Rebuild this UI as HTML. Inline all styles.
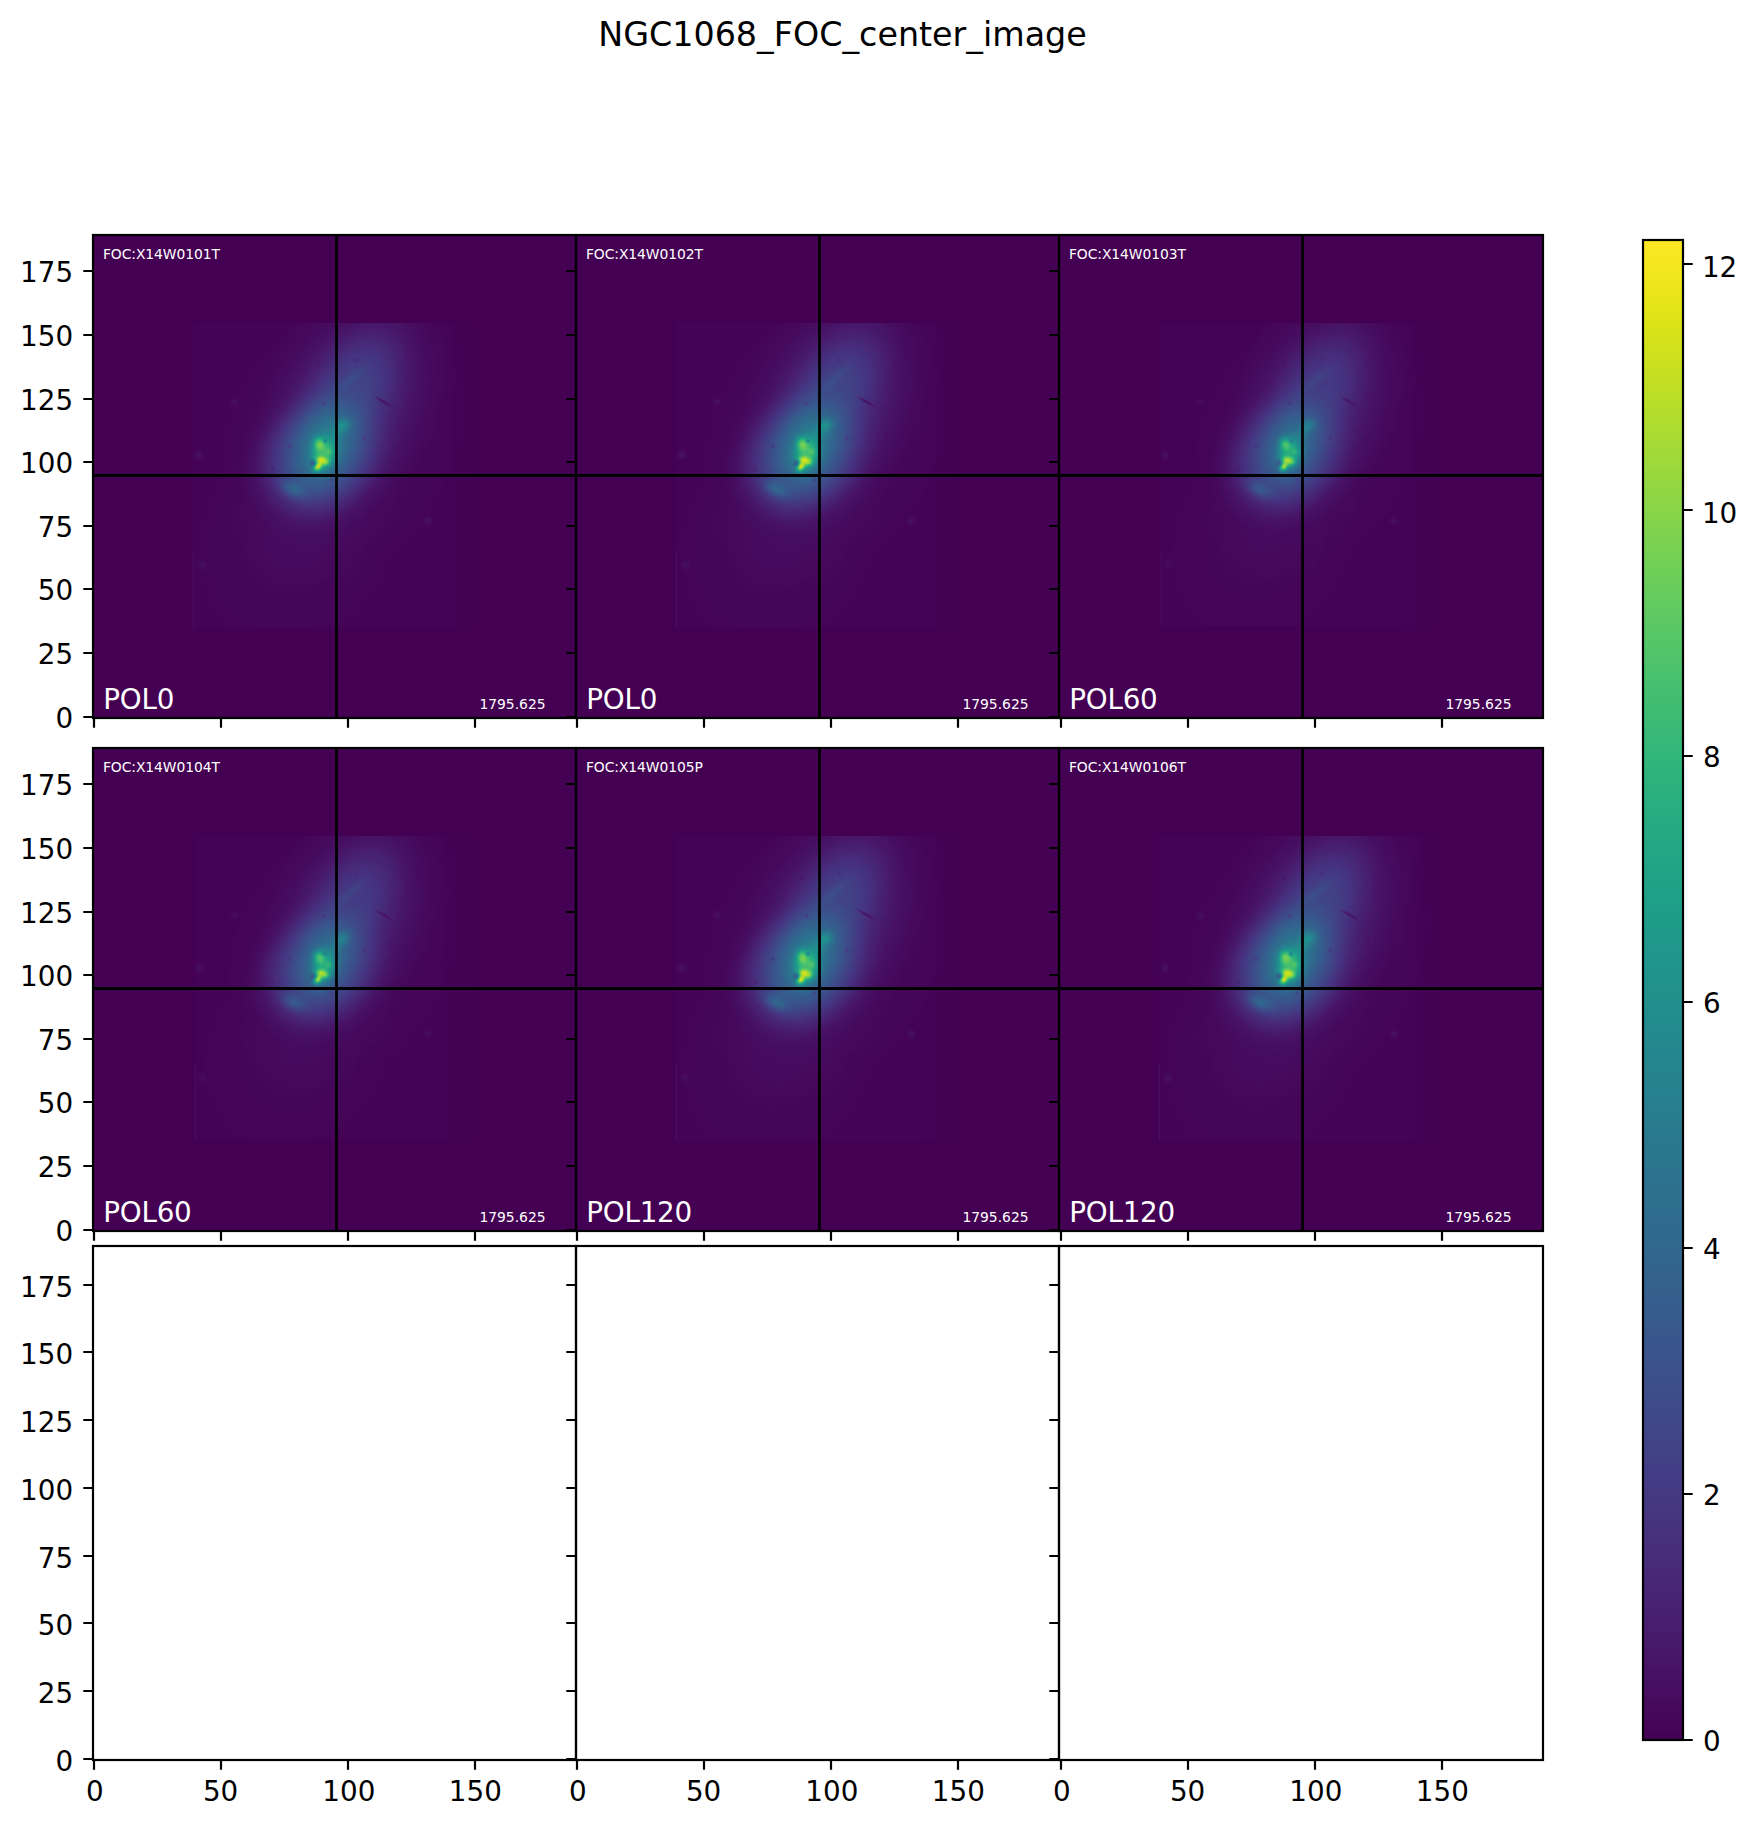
<!DOCTYPE html>
<html lang="en"><head><meta charset="utf-8"><title>NGC1068_FOC_center_image</title>
<style>html,body{margin:0;padding:0;background:#fff}svg{display:block}text{font-family:"DejaVu Sans","Liberation Sans",sans-serif}</style>
</head><body>
<svg width="1757" height="1827" viewBox="0 0 1757 1827">
<defs>
<filter id="vir" x="0" y="0" width="100%" height="100%" color-interpolation-filters="sRGB" filterUnits="objectBoundingBox">
<feComponentTransfer><feFuncR type="table" tableValues="0.2670 0.2685 0.2699 0.2713 0.2726 0.2738 0.2750 0.2760 0.2770 0.2779 0.2788 0.2796 0.2803 0.2809 0.2814 0.2819 0.2823 0.2827 0.2829 0.2831 0.2832 0.2832 0.2832 0.2831 0.2829 0.2826 0.2823 0.2819 0.2814 0.2809 0.2803 0.2796 0.2788 0.2780 0.2771 0.2762 0.2752 0.2741 0.2730 0.2718 0.2706 0.2693 0.2680 0.2666 0.2651 0.2637 0.2621 0.2606 0.2590 0.2573 0.2556 0.2539 0.2522 0.2504 0.2486 0.2468 0.2450 0.2431 0.2412 0.2393 0.2374 0.2355 0.2336 0.2317 0.2297 0.2278 0.2259 0.2239 0.2220 0.2201 0.2181 0.2162 0.2143 0.2124 0.2105 0.2086 0.2068 0.2049 0.2031 0.2012 0.1994 0.1976 0.1959 0.1941 0.1924 0.1906 0.1889 0.1872 0.1856 0.1839 0.1823 0.1806 0.1790 0.1774 0.1758 0.1743 0.1727 0.1712 0.1696 0.1681 0.1666 0.1651 0.1636 0.1621 0.1607 0.1592 0.1577 0.1563 0.1548 0.1534 0.1519 0.1505 0.1490 0.1476 0.1462 0.1448 0.1433 0.1419 0.1405 0.1391 0.1378 0.1364 0.1351 0.1337 0.1324 0.1312 0.1299 0.1287 0.1276 0.1265 0.1254 0.1244 0.1235 0.1226 0.1218 0.1211 0.1206 0.1201 0.1197 0.1195 0.1194 0.1195 0.1197 0.1201 0.1206 0.1214 0.1223 0.1234 0.1248 0.1263 0.1281 0.1301 0.1323 0.1347 0.1373 0.1402 0.1433 0.1466 0.1501 0.1539 0.1579 0.1620 0.1664 0.1709 0.1757 0.1807 0.1858 0.1911 0.1966 0.2022 0.2080 0.2140 0.2201 0.2264 0.2328 0.2394 0.2461 0.2529 0.2599 0.2669 0.2741 0.2815 0.2889 0.2965 0.3041 0.3119 0.3198 0.3278 0.3359 0.3441 0.3524 0.3607 0.3692 0.3778 0.3864 0.3952 0.4040 0.4129 0.4219 0.4310 0.4401 0.4494 0.4587 0.4681 0.4775 0.4870 0.4966 0.5063 0.5160 0.5258 0.5356 0.5455 0.5555 0.5655 0.5756 0.5857 0.5958 0.6060 0.6163 0.6266 0.6369 0.6473 0.6576 0.6681 0.6785 0.6889 0.6994 0.7099 0.7204 0.7309 0.7414 0.7519 0.7624 0.7729 0.7833 0.7938 0.8042 0.8146 0.8249 0.8353 0.8456 0.8558 0.8660 0.8762 0.8863 0.8963 0.9063 0.9162 0.9261 0.9359 0.9456 0.9553 0.9649 0.9744 0.9839 0.9932"/><feFuncG type="table" tableValues="0.0049 0.0096 0.0146 0.0199 0.0256 0.0315 0.0378 0.0442 0.0503 0.0563 0.0621 0.0678 0.0734 0.0789 0.0843 0.0897 0.0950 0.1002 0.1054 0.1106 0.1157 0.1208 0.1258 0.1309 0.1359 0.1409 0.1459 0.1509 0.1558 0.1608 0.1657 0.1706 0.1755 0.1804 0.1852 0.1901 0.1949 0.1997 0.2045 0.2093 0.2141 0.2188 0.2235 0.2283 0.2330 0.2376 0.2423 0.2469 0.2515 0.2561 0.2607 0.2653 0.2698 0.2743 0.2788 0.2832 0.2877 0.2921 0.2965 0.3009 0.3052 0.3095 0.3138 0.3181 0.3224 0.3266 0.3308 0.3350 0.3392 0.3433 0.3474 0.3515 0.3556 0.3597 0.3637 0.3678 0.3718 0.3757 0.3797 0.3837 0.3876 0.3915 0.3954 0.3993 0.4032 0.4071 0.4109 0.4147 0.4186 0.4224 0.4262 0.4300 0.4338 0.4375 0.4413 0.4450 0.4488 0.4525 0.4563 0.4600 0.4637 0.4674 0.4711 0.4748 0.4785 0.4822 0.4859 0.4896 0.4933 0.4970 0.5007 0.5044 0.5081 0.5117 0.5154 0.5191 0.5228 0.5265 0.5301 0.5338 0.5375 0.5412 0.5449 0.5485 0.5522 0.5559 0.5596 0.5633 0.5669 0.5706 0.5743 0.5780 0.5817 0.5854 0.5891 0.5927 0.5964 0.6001 0.6038 0.6075 0.6111 0.6148 0.6185 0.6222 0.6258 0.6295 0.6332 0.6368 0.6405 0.6441 0.6477 0.6514 0.6550 0.6586 0.6623 0.6659 0.6695 0.6731 0.6766 0.6802 0.6838 0.6873 0.6909 0.6944 0.6979 0.7014 0.7049 0.7084 0.7118 0.7153 0.7187 0.7221 0.7255 0.7289 0.7322 0.7356 0.7389 0.7422 0.7455 0.7488 0.7520 0.7552 0.7584 0.7616 0.7647 0.7678 0.7709 0.7740 0.7770 0.7800 0.7830 0.7860 0.7889 0.7918 0.7946 0.7975 0.8003 0.8030 0.8058 0.8085 0.8111 0.8138 0.8164 0.8189 0.8214 0.8239 0.8264 0.8288 0.8312 0.8335 0.8358 0.8380 0.8403 0.8424 0.8446 0.8467 0.8487 0.8507 0.8527 0.8546 0.8565 0.8584 0.8602 0.8620 0.8637 0.8654 0.8671 0.8688 0.8703 0.8719 0.8734 0.8750 0.8764 0.8779 0.8793 0.8807 0.8820 0.8834 0.8847 0.8860 0.8873 0.8886 0.8899 0.8911 0.8924 0.8936 0.8949 0.8961 0.8973 0.8986 0.8998 0.9011 0.9023 0.9036 0.9049 0.9062"/><feFuncB type="table" tableValues="0.3294 0.3354 0.3414 0.3473 0.3531 0.3589 0.3645 0.3702 0.3757 0.3812 0.3866 0.3919 0.3972 0.4023 0.4074 0.4124 0.4173 0.4222 0.4269 0.4316 0.4361 0.4406 0.4450 0.4492 0.4534 0.4575 0.4615 0.4654 0.4692 0.4729 0.4765 0.4800 0.4834 0.4867 0.4899 0.4930 0.4960 0.4989 0.5017 0.5044 0.5071 0.5096 0.5120 0.5143 0.5166 0.5188 0.5208 0.5228 0.5247 0.5266 0.5283 0.5300 0.5316 0.5331 0.5346 0.5359 0.5373 0.5385 0.5397 0.5408 0.5419 0.5429 0.5439 0.5448 0.5457 0.5465 0.5473 0.5481 0.5488 0.5494 0.5500 0.5506 0.5512 0.5517 0.5522 0.5527 0.5531 0.5535 0.5539 0.5543 0.5546 0.5550 0.5553 0.5556 0.5558 0.5561 0.5563 0.5565 0.5568 0.5569 0.5571 0.5573 0.5574 0.5576 0.5577 0.5578 0.5579 0.5580 0.5580 0.5581 0.5581 0.5581 0.5581 0.5581 0.5581 0.5581 0.5580 0.5579 0.5578 0.5577 0.5576 0.5574 0.5573 0.5570 0.5568 0.5566 0.5563 0.5560 0.5557 0.5553 0.5549 0.5545 0.5540 0.5535 0.5530 0.5525 0.5519 0.5512 0.5506 0.5498 0.5491 0.5483 0.5474 0.5466 0.5456 0.5446 0.5436 0.5425 0.5414 0.5402 0.5390 0.5377 0.5363 0.5349 0.5335 0.5320 0.5304 0.5288 0.5271 0.5253 0.5235 0.5216 0.5197 0.5176 0.5156 0.5134 0.5112 0.5089 0.5066 0.5042 0.5017 0.4991 0.4965 0.4938 0.4910 0.4882 0.4853 0.4823 0.4792 0.4761 0.4729 0.4696 0.4662 0.4628 0.4593 0.4557 0.4520 0.4483 0.4445 0.4406 0.4366 0.4326 0.4284 0.4242 0.4199 0.4156 0.4112 0.4066 0.4020 0.3974 0.3926 0.3878 0.3829 0.3779 0.3729 0.3678 0.3626 0.3573 0.3519 0.3465 0.3410 0.3354 0.3297 0.3240 0.3182 0.3123 0.3064 0.3004 0.2943 0.2881 0.2819 0.2756 0.2693 0.2629 0.2564 0.2499 0.2433 0.2367 0.2301 0.2234 0.2166 0.2099 0.2031 0.1963 0.1895 0.1827 0.1760 0.1693 0.1626 0.1560 0.1496 0.1432 0.1371 0.1311 0.1254 0.1200 0.1150 0.1103 0.1062 0.1026 0.0997 0.0975 0.0960 0.0953 0.0954 0.0963 0.0981 0.1007 0.1041 0.1081 0.1128 0.1181 0.1239 0.1302 0.1369 0.1439"/></feComponentTransfer></filter>
<clipPath id="cp"><rect x="0" y="0" width="483" height="483"/></clipPath>
<clipPath id="det_a"><rect x="99.5" y="88.0" width="283.0" height="305.0"/></clipPath><linearGradient id="dg_a" x1="0" y1="0" x2="1" y2="0"><stop offset="0" stop-color="#fff" stop-opacity="0.0080"/><stop offset="0.86" stop-color="#fff" stop-opacity="0.0080"/><stop offset="1" stop-color="#fff" stop-opacity="0.0028"/></linearGradient><radialGradient id="g1" cx="0" cy="0" r="1" gradientUnits="userSpaceOnUse"><stop offset="0.000" stop-color="#fff" stop-opacity="0.0500"/><stop offset="0.062" stop-color="#fff" stop-opacity="0.0491"/><stop offset="0.125" stop-color="#fff" stop-opacity="0.0466"/><stop offset="0.188" stop-color="#fff" stop-opacity="0.0427"/><stop offset="0.250" stop-color="#fff" stop-opacity="0.0377"/><stop offset="0.312" stop-color="#fff" stop-opacity="0.0322"/><stop offset="0.375" stop-color="#fff" stop-opacity="0.0266"/><stop offset="0.438" stop-color="#fff" stop-opacity="0.0211"/><stop offset="0.500" stop-color="#fff" stop-opacity="0.0162"/><stop offset="0.562" stop-color="#fff" stop-opacity="0.0120"/><stop offset="0.625" stop-color="#fff" stop-opacity="0.0086"/><stop offset="0.688" stop-color="#fff" stop-opacity="0.0060"/><stop offset="0.750" stop-color="#fff" stop-opacity="0.0040"/><stop offset="0.812" stop-color="#fff" stop-opacity="0.0026"/><stop offset="0.875" stop-color="#fff" stop-opacity="0.0016"/><stop offset="0.938" stop-color="#fff" stop-opacity="0.0010"/><stop offset="1.000" stop-color="#fff" stop-opacity="0.0000"/></radialGradient><radialGradient id="g2" cx="0" cy="0" r="1" gradientUnits="userSpaceOnUse"><stop offset="0.000" stop-color="#fff" stop-opacity="0.0180"/><stop offset="0.062" stop-color="#fff" stop-opacity="0.0177"/><stop offset="0.125" stop-color="#fff" stop-opacity="0.0168"/><stop offset="0.188" stop-color="#fff" stop-opacity="0.0154"/><stop offset="0.250" stop-color="#fff" stop-opacity="0.0136"/><stop offset="0.312" stop-color="#fff" stop-opacity="0.0116"/><stop offset="0.375" stop-color="#fff" stop-opacity="0.0096"/><stop offset="0.438" stop-color="#fff" stop-opacity="0.0076"/><stop offset="0.500" stop-color="#fff" stop-opacity="0.0058"/><stop offset="0.562" stop-color="#fff" stop-opacity="0.0043"/><stop offset="0.625" stop-color="#fff" stop-opacity="0.0031"/><stop offset="0.688" stop-color="#fff" stop-opacity="0.0021"/><stop offset="0.750" stop-color="#fff" stop-opacity="0.0014"/><stop offset="0.812" stop-color="#fff" stop-opacity="0.0009"/><stop offset="0.875" stop-color="#fff" stop-opacity="0.0006"/><stop offset="0.938" stop-color="#fff" stop-opacity="0.0003"/><stop offset="1.000" stop-color="#fff" stop-opacity="0.0000"/></radialGradient><radialGradient id="g3" cx="0" cy="0" r="1" gradientUnits="userSpaceOnUse"><stop offset="0.000" stop-color="#fff" stop-opacity="0.0600"/><stop offset="0.062" stop-color="#fff" stop-opacity="0.0599"/><stop offset="0.125" stop-color="#fff" stop-opacity="0.0594"/><stop offset="0.188" stop-color="#fff" stop-opacity="0.0579"/><stop offset="0.250" stop-color="#fff" stop-opacity="0.0552"/><stop offset="0.312" stop-color="#fff" stop-opacity="0.0510"/><stop offset="0.375" stop-color="#fff" stop-opacity="0.0453"/><stop offset="0.438" stop-color="#fff" stop-opacity="0.0384"/><stop offset="0.500" stop-color="#fff" stop-opacity="0.0308"/><stop offset="0.562" stop-color="#fff" stop-opacity="0.0233"/><stop offset="0.625" stop-color="#fff" stop-opacity="0.0164"/><stop offset="0.688" stop-color="#fff" stop-opacity="0.0106"/><stop offset="0.750" stop-color="#fff" stop-opacity="0.0063"/><stop offset="0.812" stop-color="#fff" stop-opacity="0.0035"/><stop offset="0.875" stop-color="#fff" stop-opacity="0.0017"/><stop offset="0.938" stop-color="#fff" stop-opacity="0.0007"/><stop offset="1.000" stop-color="#fff" stop-opacity="0.0000"/></radialGradient><radialGradient id="g4" cx="0" cy="0" r="1" gradientUnits="userSpaceOnUse"><stop offset="0.000" stop-color="#fff" stop-opacity="0.0300"/><stop offset="0.062" stop-color="#fff" stop-opacity="0.0295"/><stop offset="0.125" stop-color="#fff" stop-opacity="0.0280"/><stop offset="0.188" stop-color="#fff" stop-opacity="0.0256"/><stop offset="0.250" stop-color="#fff" stop-opacity="0.0226"/><stop offset="0.312" stop-color="#fff" stop-opacity="0.0193"/><stop offset="0.375" stop-color="#fff" stop-opacity="0.0159"/><stop offset="0.438" stop-color="#fff" stop-opacity="0.0127"/><stop offset="0.500" stop-color="#fff" stop-opacity="0.0097"/><stop offset="0.562" stop-color="#fff" stop-opacity="0.0072"/><stop offset="0.625" stop-color="#fff" stop-opacity="0.0052"/><stop offset="0.688" stop-color="#fff" stop-opacity="0.0036"/><stop offset="0.750" stop-color="#fff" stop-opacity="0.0024"/><stop offset="0.812" stop-color="#fff" stop-opacity="0.0015"/><stop offset="0.875" stop-color="#fff" stop-opacity="0.0010"/><stop offset="0.938" stop-color="#fff" stop-opacity="0.0006"/><stop offset="1.000" stop-color="#fff" stop-opacity="0.0000"/></radialGradient><radialGradient id="g5" cx="0" cy="0" r="1" gradientUnits="userSpaceOnUse"><stop offset="0.000" stop-color="#fff" stop-opacity="0.0900"/><stop offset="0.062" stop-color="#fff" stop-opacity="0.0899"/><stop offset="0.125" stop-color="#fff" stop-opacity="0.0891"/><stop offset="0.188" stop-color="#fff" stop-opacity="0.0869"/><stop offset="0.250" stop-color="#fff" stop-opacity="0.0828"/><stop offset="0.312" stop-color="#fff" stop-opacity="0.0765"/><stop offset="0.375" stop-color="#fff" stop-opacity="0.0680"/><stop offset="0.438" stop-color="#fff" stop-opacity="0.0576"/><stop offset="0.500" stop-color="#fff" stop-opacity="0.0463"/><stop offset="0.562" stop-color="#fff" stop-opacity="0.0349"/><stop offset="0.625" stop-color="#fff" stop-opacity="0.0245"/><stop offset="0.688" stop-color="#fff" stop-opacity="0.0160"/><stop offset="0.750" stop-color="#fff" stop-opacity="0.0095"/><stop offset="0.812" stop-color="#fff" stop-opacity="0.0052"/><stop offset="0.875" stop-color="#fff" stop-opacity="0.0025"/><stop offset="0.938" stop-color="#fff" stop-opacity="0.0011"/><stop offset="1.000" stop-color="#fff" stop-opacity="0.0000"/></radialGradient><radialGradient id="g6" cx="0" cy="0" r="1" gradientUnits="userSpaceOnUse"><stop offset="0.000" stop-color="#fff" stop-opacity="0.1400"/><stop offset="0.062" stop-color="#fff" stop-opacity="0.1400"/><stop offset="0.125" stop-color="#fff" stop-opacity="0.1398"/><stop offset="0.188" stop-color="#fff" stop-opacity="0.1389"/><stop offset="0.250" stop-color="#fff" stop-opacity="0.1365"/><stop offset="0.312" stop-color="#fff" stop-opacity="0.1316"/><stop offset="0.375" stop-color="#fff" stop-opacity="0.1231"/><stop offset="0.438" stop-color="#fff" stop-opacity="0.1103"/><stop offset="0.500" stop-color="#fff" stop-opacity="0.0932"/><stop offset="0.562" stop-color="#fff" stop-opacity="0.0729"/><stop offset="0.625" stop-color="#fff" stop-opacity="0.0518"/><stop offset="0.688" stop-color="#fff" stop-opacity="0.0327"/><stop offset="0.750" stop-color="#fff" stop-opacity="0.0178"/><stop offset="0.812" stop-color="#fff" stop-opacity="0.0082"/><stop offset="0.875" stop-color="#fff" stop-opacity="0.0031"/><stop offset="0.938" stop-color="#fff" stop-opacity="0.0009"/><stop offset="1.000" stop-color="#fff" stop-opacity="0.0000"/></radialGradient><radialGradient id="g7" cx="0" cy="0" r="1" gradientUnits="userSpaceOnUse"><stop offset="0.000" stop-color="#fff" stop-opacity="0.2400"/><stop offset="0.062" stop-color="#fff" stop-opacity="0.2358"/><stop offset="0.125" stop-color="#fff" stop-opacity="0.2237"/><stop offset="0.188" stop-color="#fff" stop-opacity="0.2049"/><stop offset="0.250" stop-color="#fff" stop-opacity="0.1812"/><stop offset="0.312" stop-color="#fff" stop-opacity="0.1547"/><stop offset="0.375" stop-color="#fff" stop-opacity="0.1275"/><stop offset="0.438" stop-color="#fff" stop-opacity="0.1014"/><stop offset="0.500" stop-color="#fff" stop-opacity="0.0779"/><stop offset="0.562" stop-color="#fff" stop-opacity="0.0578"/><stop offset="0.625" stop-color="#fff" stop-opacity="0.0414"/><stop offset="0.688" stop-color="#fff" stop-opacity="0.0286"/><stop offset="0.750" stop-color="#fff" stop-opacity="0.0191"/><stop offset="0.812" stop-color="#fff" stop-opacity="0.0123"/><stop offset="0.875" stop-color="#fff" stop-opacity="0.0077"/><stop offset="0.938" stop-color="#fff" stop-opacity="0.0046"/><stop offset="1.000" stop-color="#fff" stop-opacity="0.0000"/></radialGradient><radialGradient id="g8" cx="0" cy="0" r="1" gradientUnits="userSpaceOnUse"><stop offset="0.000" stop-color="#fff" stop-opacity="0.4200"/><stop offset="0.062" stop-color="#fff" stop-opacity="0.4195"/><stop offset="0.125" stop-color="#fff" stop-opacity="0.4157"/><stop offset="0.188" stop-color="#fff" stop-opacity="0.4055"/><stop offset="0.250" stop-color="#fff" stop-opacity="0.3865"/><stop offset="0.312" stop-color="#fff" stop-opacity="0.3570"/><stop offset="0.375" stop-color="#fff" stop-opacity="0.3172"/><stop offset="0.438" stop-color="#fff" stop-opacity="0.2689"/><stop offset="0.500" stop-color="#fff" stop-opacity="0.2159"/><stop offset="0.562" stop-color="#fff" stop-opacity="0.1628"/><stop offset="0.625" stop-color="#fff" stop-opacity="0.1145"/><stop offset="0.688" stop-color="#fff" stop-opacity="0.0745"/><stop offset="0.750" stop-color="#fff" stop-opacity="0.0444"/><stop offset="0.812" stop-color="#fff" stop-opacity="0.0242"/><stop offset="0.875" stop-color="#fff" stop-opacity="0.0119"/><stop offset="0.938" stop-color="#fff" stop-opacity="0.0052"/><stop offset="1.000" stop-color="#fff" stop-opacity="0.0000"/></radialGradient><radialGradient id="g9" cx="0" cy="0" r="1" gradientUnits="userSpaceOnUse"><stop offset="0.000" stop-color="#fff" stop-opacity="0.9200"/><stop offset="0.062" stop-color="#fff" stop-opacity="0.9040"/><stop offset="0.125" stop-color="#fff" stop-opacity="0.8575"/><stop offset="0.188" stop-color="#fff" stop-opacity="0.7854"/><stop offset="0.250" stop-color="#fff" stop-opacity="0.6945"/><stop offset="0.312" stop-color="#fff" stop-opacity="0.5928"/><stop offset="0.375" stop-color="#fff" stop-opacity="0.4886"/><stop offset="0.438" stop-color="#fff" stop-opacity="0.3888"/><stop offset="0.500" stop-color="#fff" stop-opacity="0.2987"/><stop offset="0.562" stop-color="#fff" stop-opacity="0.2215"/><stop offset="0.625" stop-color="#fff" stop-opacity="0.1586"/><stop offset="0.688" stop-color="#fff" stop-opacity="0.1097"/><stop offset="0.750" stop-color="#fff" stop-opacity="0.0732"/><stop offset="0.812" stop-color="#fff" stop-opacity="0.0472"/><stop offset="0.875" stop-color="#fff" stop-opacity="0.0293"/><stop offset="0.938" stop-color="#fff" stop-opacity="0.0176"/><stop offset="1.000" stop-color="#fff" stop-opacity="0.0000"/></radialGradient><radialGradient id="g10" cx="0" cy="0" r="1" gradientUnits="userSpaceOnUse"><stop offset="0.000" stop-color="#fff" stop-opacity="0.8000"/><stop offset="0.062" stop-color="#fff" stop-opacity="0.7861"/><stop offset="0.125" stop-color="#fff" stop-opacity="0.7457"/><stop offset="0.188" stop-color="#fff" stop-opacity="0.6829"/><stop offset="0.250" stop-color="#fff" stop-opacity="0.6039"/><stop offset="0.312" stop-color="#fff" stop-opacity="0.5155"/><stop offset="0.375" stop-color="#fff" stop-opacity="0.4249"/><stop offset="0.438" stop-color="#fff" stop-opacity="0.3381"/><stop offset="0.500" stop-color="#fff" stop-opacity="0.2597"/><stop offset="0.562" stop-color="#fff" stop-opacity="0.1926"/><stop offset="0.625" stop-color="#fff" stop-opacity="0.1379"/><stop offset="0.688" stop-color="#fff" stop-opacity="0.0954"/><stop offset="0.750" stop-color="#fff" stop-opacity="0.0636"/><stop offset="0.812" stop-color="#fff" stop-opacity="0.0410"/><stop offset="0.875" stop-color="#fff" stop-opacity="0.0255"/><stop offset="0.938" stop-color="#fff" stop-opacity="0.0153"/><stop offset="1.000" stop-color="#fff" stop-opacity="0.0000"/></radialGradient><radialGradient id="g11" cx="0" cy="0" r="1" gradientUnits="userSpaceOnUse"><stop offset="0.000" stop-color="#fff" stop-opacity="0.5000"/><stop offset="0.062" stop-color="#fff" stop-opacity="0.4913"/><stop offset="0.125" stop-color="#fff" stop-opacity="0.4661"/><stop offset="0.188" stop-color="#fff" stop-opacity="0.4268"/><stop offset="0.250" stop-color="#fff" stop-opacity="0.3774"/><stop offset="0.312" stop-color="#fff" stop-opacity="0.3222"/><stop offset="0.375" stop-color="#fff" stop-opacity="0.2655"/><stop offset="0.438" stop-color="#fff" stop-opacity="0.2113"/><stop offset="0.500" stop-color="#fff" stop-opacity="0.1623"/><stop offset="0.562" stop-color="#fff" stop-opacity="0.1204"/><stop offset="0.625" stop-color="#fff" stop-opacity="0.0862"/><stop offset="0.688" stop-color="#fff" stop-opacity="0.0596"/><stop offset="0.750" stop-color="#fff" stop-opacity="0.0398"/><stop offset="0.812" stop-color="#fff" stop-opacity="0.0256"/><stop offset="0.875" stop-color="#fff" stop-opacity="0.0159"/><stop offset="0.938" stop-color="#fff" stop-opacity="0.0096"/><stop offset="1.000" stop-color="#fff" stop-opacity="0.0000"/></radialGradient><radialGradient id="g12" cx="0" cy="0" r="1" gradientUnits="userSpaceOnUse"><stop offset="0.000" stop-color="#fff" stop-opacity="0.5000"/><stop offset="0.062" stop-color="#fff" stop-opacity="0.4913"/><stop offset="0.125" stop-color="#fff" stop-opacity="0.4661"/><stop offset="0.188" stop-color="#fff" stop-opacity="0.4268"/><stop offset="0.250" stop-color="#fff" stop-opacity="0.3774"/><stop offset="0.312" stop-color="#fff" stop-opacity="0.3222"/><stop offset="0.375" stop-color="#fff" stop-opacity="0.2655"/><stop offset="0.438" stop-color="#fff" stop-opacity="0.2113"/><stop offset="0.500" stop-color="#fff" stop-opacity="0.1623"/><stop offset="0.562" stop-color="#fff" stop-opacity="0.1204"/><stop offset="0.625" stop-color="#fff" stop-opacity="0.0862"/><stop offset="0.688" stop-color="#fff" stop-opacity="0.0596"/><stop offset="0.750" stop-color="#fff" stop-opacity="0.0398"/><stop offset="0.812" stop-color="#fff" stop-opacity="0.0256"/><stop offset="0.875" stop-color="#fff" stop-opacity="0.0159"/><stop offset="0.938" stop-color="#fff" stop-opacity="0.0096"/><stop offset="1.000" stop-color="#fff" stop-opacity="0.0000"/></radialGradient><radialGradient id="g13" cx="0" cy="0" r="1" gradientUnits="userSpaceOnUse"><stop offset="0.000" stop-color="#fff" stop-opacity="0.2200"/><stop offset="0.062" stop-color="#fff" stop-opacity="0.2162"/><stop offset="0.125" stop-color="#fff" stop-opacity="0.2051"/><stop offset="0.188" stop-color="#fff" stop-opacity="0.1878"/><stop offset="0.250" stop-color="#fff" stop-opacity="0.1661"/><stop offset="0.312" stop-color="#fff" stop-opacity="0.1418"/><stop offset="0.375" stop-color="#fff" stop-opacity="0.1168"/><stop offset="0.438" stop-color="#fff" stop-opacity="0.0930"/><stop offset="0.500" stop-color="#fff" stop-opacity="0.0714"/><stop offset="0.562" stop-color="#fff" stop-opacity="0.0530"/><stop offset="0.625" stop-color="#fff" stop-opacity="0.0379"/><stop offset="0.688" stop-color="#fff" stop-opacity="0.0262"/><stop offset="0.750" stop-color="#fff" stop-opacity="0.0175"/><stop offset="0.812" stop-color="#fff" stop-opacity="0.0113"/><stop offset="0.875" stop-color="#fff" stop-opacity="0.0070"/><stop offset="0.938" stop-color="#fff" stop-opacity="0.0042"/><stop offset="1.000" stop-color="#fff" stop-opacity="0.0000"/></radialGradient><radialGradient id="g14" cx="0" cy="0" r="1" gradientUnits="userSpaceOnUse"><stop offset="0.000" stop-color="#fff" stop-opacity="0.2200"/><stop offset="0.062" stop-color="#fff" stop-opacity="0.2162"/><stop offset="0.125" stop-color="#fff" stop-opacity="0.2051"/><stop offset="0.188" stop-color="#fff" stop-opacity="0.1878"/><stop offset="0.250" stop-color="#fff" stop-opacity="0.1661"/><stop offset="0.312" stop-color="#fff" stop-opacity="0.1418"/><stop offset="0.375" stop-color="#fff" stop-opacity="0.1168"/><stop offset="0.438" stop-color="#fff" stop-opacity="0.0930"/><stop offset="0.500" stop-color="#fff" stop-opacity="0.0714"/><stop offset="0.562" stop-color="#fff" stop-opacity="0.0530"/><stop offset="0.625" stop-color="#fff" stop-opacity="0.0379"/><stop offset="0.688" stop-color="#fff" stop-opacity="0.0262"/><stop offset="0.750" stop-color="#fff" stop-opacity="0.0175"/><stop offset="0.812" stop-color="#fff" stop-opacity="0.0113"/><stop offset="0.875" stop-color="#fff" stop-opacity="0.0070"/><stop offset="0.938" stop-color="#fff" stop-opacity="0.0042"/><stop offset="1.000" stop-color="#fff" stop-opacity="0.0000"/></radialGradient><radialGradient id="g15" cx="0" cy="0" r="1" gradientUnits="userSpaceOnUse"><stop offset="0.000" stop-color="#fff" stop-opacity="0.1000"/><stop offset="0.062" stop-color="#fff" stop-opacity="0.0983"/><stop offset="0.125" stop-color="#fff" stop-opacity="0.0932"/><stop offset="0.188" stop-color="#fff" stop-opacity="0.0854"/><stop offset="0.250" stop-color="#fff" stop-opacity="0.0755"/><stop offset="0.312" stop-color="#fff" stop-opacity="0.0644"/><stop offset="0.375" stop-color="#fff" stop-opacity="0.0531"/><stop offset="0.438" stop-color="#fff" stop-opacity="0.0423"/><stop offset="0.500" stop-color="#fff" stop-opacity="0.0325"/><stop offset="0.562" stop-color="#fff" stop-opacity="0.0241"/><stop offset="0.625" stop-color="#fff" stop-opacity="0.0172"/><stop offset="0.688" stop-color="#fff" stop-opacity="0.0119"/><stop offset="0.750" stop-color="#fff" stop-opacity="0.0080"/><stop offset="0.812" stop-color="#fff" stop-opacity="0.0051"/><stop offset="0.875" stop-color="#fff" stop-opacity="0.0032"/><stop offset="0.938" stop-color="#fff" stop-opacity="0.0019"/><stop offset="1.000" stop-color="#fff" stop-opacity="0.0000"/></radialGradient><radialGradient id="g16" cx="0" cy="0" r="1" gradientUnits="userSpaceOnUse"><stop offset="0.000" stop-color="#000" stop-opacity="0.4500"/><stop offset="0.062" stop-color="#000" stop-opacity="0.4422"/><stop offset="0.125" stop-color="#000" stop-opacity="0.4194"/><stop offset="0.188" stop-color="#000" stop-opacity="0.3842"/><stop offset="0.250" stop-color="#000" stop-opacity="0.3397"/><stop offset="0.312" stop-color="#000" stop-opacity="0.2900"/><stop offset="0.375" stop-color="#000" stop-opacity="0.2390"/><stop offset="0.438" stop-color="#000" stop-opacity="0.1902"/><stop offset="0.500" stop-color="#000" stop-opacity="0.1461"/><stop offset="0.562" stop-color="#000" stop-opacity="0.1084"/><stop offset="0.625" stop-color="#000" stop-opacity="0.0776"/><stop offset="0.688" stop-color="#000" stop-opacity="0.0536"/><stop offset="0.750" stop-color="#000" stop-opacity="0.0358"/><stop offset="0.812" stop-color="#000" stop-opacity="0.0231"/><stop offset="0.875" stop-color="#000" stop-opacity="0.0144"/><stop offset="0.938" stop-color="#000" stop-opacity="0.0086"/><stop offset="1.000" stop-color="#000" stop-opacity="0.0000"/></radialGradient><radialGradient id="g17" cx="0" cy="0" r="1" gradientUnits="userSpaceOnUse"><stop offset="0.000" stop-color="#fff" stop-opacity="0.1600"/><stop offset="0.062" stop-color="#fff" stop-opacity="0.1572"/><stop offset="0.125" stop-color="#fff" stop-opacity="0.1491"/><stop offset="0.188" stop-color="#fff" stop-opacity="0.1366"/><stop offset="0.250" stop-color="#fff" stop-opacity="0.1208"/><stop offset="0.312" stop-color="#fff" stop-opacity="0.1031"/><stop offset="0.375" stop-color="#fff" stop-opacity="0.0850"/><stop offset="0.438" stop-color="#fff" stop-opacity="0.0676"/><stop offset="0.500" stop-color="#fff" stop-opacity="0.0519"/><stop offset="0.562" stop-color="#fff" stop-opacity="0.0385"/><stop offset="0.625" stop-color="#fff" stop-opacity="0.0276"/><stop offset="0.688" stop-color="#fff" stop-opacity="0.0191"/><stop offset="0.750" stop-color="#fff" stop-opacity="0.0127"/><stop offset="0.812" stop-color="#fff" stop-opacity="0.0082"/><stop offset="0.875" stop-color="#fff" stop-opacity="0.0051"/><stop offset="0.938" stop-color="#fff" stop-opacity="0.0031"/><stop offset="1.000" stop-color="#fff" stop-opacity="0.0000"/></radialGradient><radialGradient id="g18" cx="0" cy="0" r="1" gradientUnits="userSpaceOnUse"><stop offset="0.000" stop-color="#fff" stop-opacity="0.0500"/><stop offset="0.062" stop-color="#fff" stop-opacity="0.0491"/><stop offset="0.125" stop-color="#fff" stop-opacity="0.0466"/><stop offset="0.188" stop-color="#fff" stop-opacity="0.0427"/><stop offset="0.250" stop-color="#fff" stop-opacity="0.0377"/><stop offset="0.312" stop-color="#fff" stop-opacity="0.0322"/><stop offset="0.375" stop-color="#fff" stop-opacity="0.0266"/><stop offset="0.438" stop-color="#fff" stop-opacity="0.0211"/><stop offset="0.500" stop-color="#fff" stop-opacity="0.0162"/><stop offset="0.562" stop-color="#fff" stop-opacity="0.0120"/><stop offset="0.625" stop-color="#fff" stop-opacity="0.0086"/><stop offset="0.688" stop-color="#fff" stop-opacity="0.0060"/><stop offset="0.750" stop-color="#fff" stop-opacity="0.0040"/><stop offset="0.812" stop-color="#fff" stop-opacity="0.0026"/><stop offset="0.875" stop-color="#fff" stop-opacity="0.0016"/><stop offset="0.938" stop-color="#fff" stop-opacity="0.0010"/><stop offset="1.000" stop-color="#fff" stop-opacity="0.0000"/></radialGradient><radialGradient id="g19" cx="0" cy="0" r="1" gradientUnits="userSpaceOnUse"><stop offset="0.000" stop-color="#000" stop-opacity="0.6000"/><stop offset="0.062" stop-color="#000" stop-opacity="0.5999"/><stop offset="0.125" stop-color="#000" stop-opacity="0.5990"/><stop offset="0.188" stop-color="#000" stop-opacity="0.5952"/><stop offset="0.250" stop-color="#000" stop-opacity="0.5849"/><stop offset="0.312" stop-color="#000" stop-opacity="0.5638"/><stop offset="0.375" stop-color="#000" stop-opacity="0.5275"/><stop offset="0.438" stop-color="#000" stop-opacity="0.4726"/><stop offset="0.500" stop-color="#000" stop-opacity="0.3993"/><stop offset="0.562" stop-color="#000" stop-opacity="0.3125"/><stop offset="0.625" stop-color="#000" stop-opacity="0.2220"/><stop offset="0.688" stop-color="#000" stop-opacity="0.1399"/><stop offset="0.750" stop-color="#000" stop-opacity="0.0763"/><stop offset="0.812" stop-color="#000" stop-opacity="0.0351"/><stop offset="0.875" stop-color="#000" stop-opacity="0.0132"/><stop offset="0.938" stop-color="#000" stop-opacity="0.0039"/><stop offset="1.000" stop-color="#000" stop-opacity="0.0000"/></radialGradient><radialGradient id="g20" cx="0" cy="0" r="1" gradientUnits="userSpaceOnUse"><stop offset="0.000" stop-color="#000" stop-opacity="0.3000"/><stop offset="0.062" stop-color="#000" stop-opacity="0.2948"/><stop offset="0.125" stop-color="#000" stop-opacity="0.2796"/><stop offset="0.188" stop-color="#000" stop-opacity="0.2561"/><stop offset="0.250" stop-color="#000" stop-opacity="0.2265"/><stop offset="0.312" stop-color="#000" stop-opacity="0.1933"/><stop offset="0.375" stop-color="#000" stop-opacity="0.1593"/><stop offset="0.438" stop-color="#000" stop-opacity="0.1268"/><stop offset="0.500" stop-color="#000" stop-opacity="0.0974"/><stop offset="0.562" stop-color="#000" stop-opacity="0.0722"/><stop offset="0.625" stop-color="#000" stop-opacity="0.0517"/><stop offset="0.688" stop-color="#000" stop-opacity="0.0358"/><stop offset="0.750" stop-color="#000" stop-opacity="0.0239"/><stop offset="0.812" stop-color="#000" stop-opacity="0.0154"/><stop offset="0.875" stop-color="#000" stop-opacity="0.0096"/><stop offset="0.938" stop-color="#000" stop-opacity="0.0057"/><stop offset="1.000" stop-color="#000" stop-opacity="0.0000"/></radialGradient><radialGradient id="g21" cx="0" cy="0" r="1" gradientUnits="userSpaceOnUse"><stop offset="0.000" stop-color="#000" stop-opacity="0.3000"/><stop offset="0.062" stop-color="#000" stop-opacity="0.2948"/><stop offset="0.125" stop-color="#000" stop-opacity="0.2796"/><stop offset="0.188" stop-color="#000" stop-opacity="0.2561"/><stop offset="0.250" stop-color="#000" stop-opacity="0.2265"/><stop offset="0.312" stop-color="#000" stop-opacity="0.1933"/><stop offset="0.375" stop-color="#000" stop-opacity="0.1593"/><stop offset="0.438" stop-color="#000" stop-opacity="0.1268"/><stop offset="0.500" stop-color="#000" stop-opacity="0.0974"/><stop offset="0.562" stop-color="#000" stop-opacity="0.0722"/><stop offset="0.625" stop-color="#000" stop-opacity="0.0517"/><stop offset="0.688" stop-color="#000" stop-opacity="0.0358"/><stop offset="0.750" stop-color="#000" stop-opacity="0.0239"/><stop offset="0.812" stop-color="#000" stop-opacity="0.0154"/><stop offset="0.875" stop-color="#000" stop-opacity="0.0096"/><stop offset="0.938" stop-color="#000" stop-opacity="0.0057"/><stop offset="1.000" stop-color="#000" stop-opacity="0.0000"/></radialGradient><radialGradient id="g22" cx="0" cy="0" r="1" gradientUnits="userSpaceOnUse"><stop offset="0.000" stop-color="#000" stop-opacity="0.3000"/><stop offset="0.062" stop-color="#000" stop-opacity="0.2948"/><stop offset="0.125" stop-color="#000" stop-opacity="0.2796"/><stop offset="0.188" stop-color="#000" stop-opacity="0.2561"/><stop offset="0.250" stop-color="#000" stop-opacity="0.2265"/><stop offset="0.312" stop-color="#000" stop-opacity="0.1933"/><stop offset="0.375" stop-color="#000" stop-opacity="0.1593"/><stop offset="0.438" stop-color="#000" stop-opacity="0.1268"/><stop offset="0.500" stop-color="#000" stop-opacity="0.0974"/><stop offset="0.562" stop-color="#000" stop-opacity="0.0722"/><stop offset="0.625" stop-color="#000" stop-opacity="0.0517"/><stop offset="0.688" stop-color="#000" stop-opacity="0.0358"/><stop offset="0.750" stop-color="#000" stop-opacity="0.0239"/><stop offset="0.812" stop-color="#000" stop-opacity="0.0154"/><stop offset="0.875" stop-color="#000" stop-opacity="0.0096"/><stop offset="0.938" stop-color="#000" stop-opacity="0.0057"/><stop offset="1.000" stop-color="#000" stop-opacity="0.0000"/></radialGradient><radialGradient id="g23" cx="0" cy="0" r="1" gradientUnits="userSpaceOnUse"><stop offset="0.000" stop-color="#000" stop-opacity="0.3000"/><stop offset="0.062" stop-color="#000" stop-opacity="0.2948"/><stop offset="0.125" stop-color="#000" stop-opacity="0.2796"/><stop offset="0.188" stop-color="#000" stop-opacity="0.2561"/><stop offset="0.250" stop-color="#000" stop-opacity="0.2265"/><stop offset="0.312" stop-color="#000" stop-opacity="0.1933"/><stop offset="0.375" stop-color="#000" stop-opacity="0.1593"/><stop offset="0.438" stop-color="#000" stop-opacity="0.1268"/><stop offset="0.500" stop-color="#000" stop-opacity="0.0974"/><stop offset="0.562" stop-color="#000" stop-opacity="0.0722"/><stop offset="0.625" stop-color="#000" stop-opacity="0.0517"/><stop offset="0.688" stop-color="#000" stop-opacity="0.0358"/><stop offset="0.750" stop-color="#000" stop-opacity="0.0239"/><stop offset="0.812" stop-color="#000" stop-opacity="0.0154"/><stop offset="0.875" stop-color="#000" stop-opacity="0.0096"/><stop offset="0.938" stop-color="#000" stop-opacity="0.0057"/><stop offset="1.000" stop-color="#000" stop-opacity="0.0000"/></radialGradient><radialGradient id="g24" cx="0" cy="0" r="1" gradientUnits="userSpaceOnUse"><stop offset="0.000" stop-color="#000" stop-opacity="0.3000"/><stop offset="0.062" stop-color="#000" stop-opacity="0.2948"/><stop offset="0.125" stop-color="#000" stop-opacity="0.2796"/><stop offset="0.188" stop-color="#000" stop-opacity="0.2561"/><stop offset="0.250" stop-color="#000" stop-opacity="0.2265"/><stop offset="0.312" stop-color="#000" stop-opacity="0.1933"/><stop offset="0.375" stop-color="#000" stop-opacity="0.1593"/><stop offset="0.438" stop-color="#000" stop-opacity="0.1268"/><stop offset="0.500" stop-color="#000" stop-opacity="0.0974"/><stop offset="0.562" stop-color="#000" stop-opacity="0.0722"/><stop offset="0.625" stop-color="#000" stop-opacity="0.0517"/><stop offset="0.688" stop-color="#000" stop-opacity="0.0358"/><stop offset="0.750" stop-color="#000" stop-opacity="0.0239"/><stop offset="0.812" stop-color="#000" stop-opacity="0.0154"/><stop offset="0.875" stop-color="#000" stop-opacity="0.0096"/><stop offset="0.938" stop-color="#000" stop-opacity="0.0057"/><stop offset="1.000" stop-color="#000" stop-opacity="0.0000"/></radialGradient><radialGradient id="g25" cx="0" cy="0" r="1" gradientUnits="userSpaceOnUse"><stop offset="0.000" stop-color="#000" stop-opacity="0.3000"/><stop offset="0.062" stop-color="#000" stop-opacity="0.2948"/><stop offset="0.125" stop-color="#000" stop-opacity="0.2796"/><stop offset="0.188" stop-color="#000" stop-opacity="0.2561"/><stop offset="0.250" stop-color="#000" stop-opacity="0.2265"/><stop offset="0.312" stop-color="#000" stop-opacity="0.1933"/><stop offset="0.375" stop-color="#000" stop-opacity="0.1593"/><stop offset="0.438" stop-color="#000" stop-opacity="0.1268"/><stop offset="0.500" stop-color="#000" stop-opacity="0.0974"/><stop offset="0.562" stop-color="#000" stop-opacity="0.0722"/><stop offset="0.625" stop-color="#000" stop-opacity="0.0517"/><stop offset="0.688" stop-color="#000" stop-opacity="0.0358"/><stop offset="0.750" stop-color="#000" stop-opacity="0.0239"/><stop offset="0.812" stop-color="#000" stop-opacity="0.0154"/><stop offset="0.875" stop-color="#000" stop-opacity="0.0096"/><stop offset="0.938" stop-color="#000" stop-opacity="0.0057"/><stop offset="1.000" stop-color="#000" stop-opacity="0.0000"/></radialGradient><radialGradient id="g26" cx="0" cy="0" r="1" gradientUnits="userSpaceOnUse"><stop offset="0.000" stop-color="#000" stop-opacity="0.3000"/><stop offset="0.062" stop-color="#000" stop-opacity="0.2948"/><stop offset="0.125" stop-color="#000" stop-opacity="0.2796"/><stop offset="0.188" stop-color="#000" stop-opacity="0.2561"/><stop offset="0.250" stop-color="#000" stop-opacity="0.2265"/><stop offset="0.312" stop-color="#000" stop-opacity="0.1933"/><stop offset="0.375" stop-color="#000" stop-opacity="0.1593"/><stop offset="0.438" stop-color="#000" stop-opacity="0.1268"/><stop offset="0.500" stop-color="#000" stop-opacity="0.0974"/><stop offset="0.562" stop-color="#000" stop-opacity="0.0722"/><stop offset="0.625" stop-color="#000" stop-opacity="0.0517"/><stop offset="0.688" stop-color="#000" stop-opacity="0.0358"/><stop offset="0.750" stop-color="#000" stop-opacity="0.0239"/><stop offset="0.812" stop-color="#000" stop-opacity="0.0154"/><stop offset="0.875" stop-color="#000" stop-opacity="0.0096"/><stop offset="0.938" stop-color="#000" stop-opacity="0.0057"/><stop offset="1.000" stop-color="#000" stop-opacity="0.0000"/></radialGradient><radialGradient id="g27" cx="0" cy="0" r="1" gradientUnits="userSpaceOnUse"><stop offset="0.000" stop-color="#000" stop-opacity="0.3000"/><stop offset="0.062" stop-color="#000" stop-opacity="0.2948"/><stop offset="0.125" stop-color="#000" stop-opacity="0.2796"/><stop offset="0.188" stop-color="#000" stop-opacity="0.2561"/><stop offset="0.250" stop-color="#000" stop-opacity="0.2265"/><stop offset="0.312" stop-color="#000" stop-opacity="0.1933"/><stop offset="0.375" stop-color="#000" stop-opacity="0.1593"/><stop offset="0.438" stop-color="#000" stop-opacity="0.1268"/><stop offset="0.500" stop-color="#000" stop-opacity="0.0974"/><stop offset="0.562" stop-color="#000" stop-opacity="0.0722"/><stop offset="0.625" stop-color="#000" stop-opacity="0.0517"/><stop offset="0.688" stop-color="#000" stop-opacity="0.0358"/><stop offset="0.750" stop-color="#000" stop-opacity="0.0239"/><stop offset="0.812" stop-color="#000" stop-opacity="0.0154"/><stop offset="0.875" stop-color="#000" stop-opacity="0.0096"/><stop offset="0.938" stop-color="#000" stop-opacity="0.0057"/><stop offset="1.000" stop-color="#000" stop-opacity="0.0000"/></radialGradient><radialGradient id="g28" cx="0" cy="0" r="1" gradientUnits="userSpaceOnUse"><stop offset="0.000" stop-color="#000" stop-opacity="0.3000"/><stop offset="0.062" stop-color="#000" stop-opacity="0.2948"/><stop offset="0.125" stop-color="#000" stop-opacity="0.2796"/><stop offset="0.188" stop-color="#000" stop-opacity="0.2561"/><stop offset="0.250" stop-color="#000" stop-opacity="0.2265"/><stop offset="0.312" stop-color="#000" stop-opacity="0.1933"/><stop offset="0.375" stop-color="#000" stop-opacity="0.1593"/><stop offset="0.438" stop-color="#000" stop-opacity="0.1268"/><stop offset="0.500" stop-color="#000" stop-opacity="0.0974"/><stop offset="0.562" stop-color="#000" stop-opacity="0.0722"/><stop offset="0.625" stop-color="#000" stop-opacity="0.0517"/><stop offset="0.688" stop-color="#000" stop-opacity="0.0358"/><stop offset="0.750" stop-color="#000" stop-opacity="0.0239"/><stop offset="0.812" stop-color="#000" stop-opacity="0.0154"/><stop offset="0.875" stop-color="#000" stop-opacity="0.0096"/><stop offset="0.938" stop-color="#000" stop-opacity="0.0057"/><stop offset="1.000" stop-color="#000" stop-opacity="0.0000"/></radialGradient><radialGradient id="g29" cx="0" cy="0" r="1" gradientUnits="userSpaceOnUse"><stop offset="0.000" stop-color="#000" stop-opacity="0.3000"/><stop offset="0.062" stop-color="#000" stop-opacity="0.2948"/><stop offset="0.125" stop-color="#000" stop-opacity="0.2796"/><stop offset="0.188" stop-color="#000" stop-opacity="0.2561"/><stop offset="0.250" stop-color="#000" stop-opacity="0.2265"/><stop offset="0.312" stop-color="#000" stop-opacity="0.1933"/><stop offset="0.375" stop-color="#000" stop-opacity="0.1593"/><stop offset="0.438" stop-color="#000" stop-opacity="0.1268"/><stop offset="0.500" stop-color="#000" stop-opacity="0.0974"/><stop offset="0.562" stop-color="#000" stop-opacity="0.0722"/><stop offset="0.625" stop-color="#000" stop-opacity="0.0517"/><stop offset="0.688" stop-color="#000" stop-opacity="0.0358"/><stop offset="0.750" stop-color="#000" stop-opacity="0.0239"/><stop offset="0.812" stop-color="#000" stop-opacity="0.0154"/><stop offset="0.875" stop-color="#000" stop-opacity="0.0096"/><stop offset="0.938" stop-color="#000" stop-opacity="0.0057"/><stop offset="1.000" stop-color="#000" stop-opacity="0.0000"/></radialGradient><radialGradient id="g30" cx="0" cy="0" r="1" gradientUnits="userSpaceOnUse"><stop offset="0.000" stop-color="#fff" stop-opacity="0.0400"/><stop offset="0.062" stop-color="#fff" stop-opacity="0.0393"/><stop offset="0.125" stop-color="#fff" stop-opacity="0.0373"/><stop offset="0.188" stop-color="#fff" stop-opacity="0.0341"/><stop offset="0.250" stop-color="#fff" stop-opacity="0.0302"/><stop offset="0.312" stop-color="#fff" stop-opacity="0.0258"/><stop offset="0.375" stop-color="#fff" stop-opacity="0.0212"/><stop offset="0.438" stop-color="#fff" stop-opacity="0.0169"/><stop offset="0.500" stop-color="#fff" stop-opacity="0.0130"/><stop offset="0.562" stop-color="#fff" stop-opacity="0.0096"/><stop offset="0.625" stop-color="#fff" stop-opacity="0.0069"/><stop offset="0.688" stop-color="#fff" stop-opacity="0.0048"/><stop offset="0.750" stop-color="#fff" stop-opacity="0.0032"/><stop offset="0.812" stop-color="#fff" stop-opacity="0.0021"/><stop offset="0.875" stop-color="#fff" stop-opacity="0.0013"/><stop offset="0.938" stop-color="#fff" stop-opacity="0.0008"/><stop offset="1.000" stop-color="#fff" stop-opacity="0.0000"/></radialGradient><radialGradient id="g31" cx="0" cy="0" r="1" gradientUnits="userSpaceOnUse"><stop offset="0.000" stop-color="#fff" stop-opacity="0.0300"/><stop offset="0.062" stop-color="#fff" stop-opacity="0.0295"/><stop offset="0.125" stop-color="#fff" stop-opacity="0.0280"/><stop offset="0.188" stop-color="#fff" stop-opacity="0.0256"/><stop offset="0.250" stop-color="#fff" stop-opacity="0.0226"/><stop offset="0.312" stop-color="#fff" stop-opacity="0.0193"/><stop offset="0.375" stop-color="#fff" stop-opacity="0.0159"/><stop offset="0.438" stop-color="#fff" stop-opacity="0.0127"/><stop offset="0.500" stop-color="#fff" stop-opacity="0.0097"/><stop offset="0.562" stop-color="#fff" stop-opacity="0.0072"/><stop offset="0.625" stop-color="#fff" stop-opacity="0.0052"/><stop offset="0.688" stop-color="#fff" stop-opacity="0.0036"/><stop offset="0.750" stop-color="#fff" stop-opacity="0.0024"/><stop offset="0.812" stop-color="#fff" stop-opacity="0.0015"/><stop offset="0.875" stop-color="#fff" stop-opacity="0.0010"/><stop offset="0.938" stop-color="#fff" stop-opacity="0.0006"/><stop offset="1.000" stop-color="#fff" stop-opacity="0.0000"/></radialGradient><radialGradient id="g32" cx="0" cy="0" r="1" gradientUnits="userSpaceOnUse"><stop offset="0.000" stop-color="#fff" stop-opacity="0.0350"/><stop offset="0.062" stop-color="#fff" stop-opacity="0.0344"/><stop offset="0.125" stop-color="#fff" stop-opacity="0.0326"/><stop offset="0.188" stop-color="#fff" stop-opacity="0.0299"/><stop offset="0.250" stop-color="#fff" stop-opacity="0.0264"/><stop offset="0.312" stop-color="#fff" stop-opacity="0.0226"/><stop offset="0.375" stop-color="#fff" stop-opacity="0.0186"/><stop offset="0.438" stop-color="#fff" stop-opacity="0.0148"/><stop offset="0.500" stop-color="#fff" stop-opacity="0.0114"/><stop offset="0.562" stop-color="#fff" stop-opacity="0.0084"/><stop offset="0.625" stop-color="#fff" stop-opacity="0.0060"/><stop offset="0.688" stop-color="#fff" stop-opacity="0.0042"/><stop offset="0.750" stop-color="#fff" stop-opacity="0.0028"/><stop offset="0.812" stop-color="#fff" stop-opacity="0.0018"/><stop offset="0.875" stop-color="#fff" stop-opacity="0.0011"/><stop offset="0.938" stop-color="#fff" stop-opacity="0.0007"/><stop offset="1.000" stop-color="#fff" stop-opacity="0.0000"/></radialGradient><radialGradient id="g33" cx="0" cy="0" r="1" gradientUnits="userSpaceOnUse"><stop offset="0.000" stop-color="#fff" stop-opacity="0.0300"/><stop offset="0.062" stop-color="#fff" stop-opacity="0.0295"/><stop offset="0.125" stop-color="#fff" stop-opacity="0.0280"/><stop offset="0.188" stop-color="#fff" stop-opacity="0.0256"/><stop offset="0.250" stop-color="#fff" stop-opacity="0.0226"/><stop offset="0.312" stop-color="#fff" stop-opacity="0.0193"/><stop offset="0.375" stop-color="#fff" stop-opacity="0.0159"/><stop offset="0.438" stop-color="#fff" stop-opacity="0.0127"/><stop offset="0.500" stop-color="#fff" stop-opacity="0.0097"/><stop offset="0.562" stop-color="#fff" stop-opacity="0.0072"/><stop offset="0.625" stop-color="#fff" stop-opacity="0.0052"/><stop offset="0.688" stop-color="#fff" stop-opacity="0.0036"/><stop offset="0.750" stop-color="#fff" stop-opacity="0.0024"/><stop offset="0.812" stop-color="#fff" stop-opacity="0.0015"/><stop offset="0.875" stop-color="#fff" stop-opacity="0.0010"/><stop offset="0.938" stop-color="#fff" stop-opacity="0.0006"/><stop offset="1.000" stop-color="#fff" stop-opacity="0.0000"/></radialGradient><clipPath id="det_b"><rect x="101.5" y="88.0" width="281.0" height="303.0"/></clipPath><linearGradient id="dg_b" x1="0" y1="0" x2="1" y2="0"><stop offset="0" stop-color="#fff" stop-opacity="0.0070"/><stop offset="0.86" stop-color="#fff" stop-opacity="0.0070"/><stop offset="1" stop-color="#fff" stop-opacity="0.0024"/></linearGradient><radialGradient id="g34" cx="0" cy="0" r="1" gradientUnits="userSpaceOnUse"><stop offset="0.000" stop-color="#fff" stop-opacity="0.0425"/><stop offset="0.062" stop-color="#fff" stop-opacity="0.0418"/><stop offset="0.125" stop-color="#fff" stop-opacity="0.0396"/><stop offset="0.188" stop-color="#fff" stop-opacity="0.0363"/><stop offset="0.250" stop-color="#fff" stop-opacity="0.0321"/><stop offset="0.312" stop-color="#fff" stop-opacity="0.0274"/><stop offset="0.375" stop-color="#fff" stop-opacity="0.0226"/><stop offset="0.438" stop-color="#fff" stop-opacity="0.0180"/><stop offset="0.500" stop-color="#fff" stop-opacity="0.0138"/><stop offset="0.562" stop-color="#fff" stop-opacity="0.0102"/><stop offset="0.625" stop-color="#fff" stop-opacity="0.0073"/><stop offset="0.688" stop-color="#fff" stop-opacity="0.0051"/><stop offset="0.750" stop-color="#fff" stop-opacity="0.0034"/><stop offset="0.812" stop-color="#fff" stop-opacity="0.0022"/><stop offset="0.875" stop-color="#fff" stop-opacity="0.0014"/><stop offset="0.938" stop-color="#fff" stop-opacity="0.0008"/><stop offset="1.000" stop-color="#fff" stop-opacity="0.0000"/></radialGradient><radialGradient id="g35" cx="0" cy="0" r="1" gradientUnits="userSpaceOnUse"><stop offset="0.000" stop-color="#fff" stop-opacity="0.0153"/><stop offset="0.062" stop-color="#fff" stop-opacity="0.0150"/><stop offset="0.125" stop-color="#fff" stop-opacity="0.0143"/><stop offset="0.188" stop-color="#fff" stop-opacity="0.0131"/><stop offset="0.250" stop-color="#fff" stop-opacity="0.0115"/><stop offset="0.312" stop-color="#fff" stop-opacity="0.0099"/><stop offset="0.375" stop-color="#fff" stop-opacity="0.0081"/><stop offset="0.438" stop-color="#fff" stop-opacity="0.0065"/><stop offset="0.500" stop-color="#fff" stop-opacity="0.0050"/><stop offset="0.562" stop-color="#fff" stop-opacity="0.0037"/><stop offset="0.625" stop-color="#fff" stop-opacity="0.0026"/><stop offset="0.688" stop-color="#fff" stop-opacity="0.0018"/><stop offset="0.750" stop-color="#fff" stop-opacity="0.0012"/><stop offset="0.812" stop-color="#fff" stop-opacity="0.0008"/><stop offset="0.875" stop-color="#fff" stop-opacity="0.0005"/><stop offset="0.938" stop-color="#fff" stop-opacity="0.0003"/><stop offset="1.000" stop-color="#fff" stop-opacity="0.0000"/></radialGradient><radialGradient id="g36" cx="0" cy="0" r="1" gradientUnits="userSpaceOnUse"><stop offset="0.000" stop-color="#fff" stop-opacity="0.0510"/><stop offset="0.062" stop-color="#fff" stop-opacity="0.0509"/><stop offset="0.125" stop-color="#fff" stop-opacity="0.0505"/><stop offset="0.188" stop-color="#fff" stop-opacity="0.0492"/><stop offset="0.250" stop-color="#fff" stop-opacity="0.0469"/><stop offset="0.312" stop-color="#fff" stop-opacity="0.0434"/><stop offset="0.375" stop-color="#fff" stop-opacity="0.0385"/><stop offset="0.438" stop-color="#fff" stop-opacity="0.0327"/><stop offset="0.500" stop-color="#fff" stop-opacity="0.0262"/><stop offset="0.562" stop-color="#fff" stop-opacity="0.0198"/><stop offset="0.625" stop-color="#fff" stop-opacity="0.0139"/><stop offset="0.688" stop-color="#fff" stop-opacity="0.0090"/><stop offset="0.750" stop-color="#fff" stop-opacity="0.0054"/><stop offset="0.812" stop-color="#fff" stop-opacity="0.0029"/><stop offset="0.875" stop-color="#fff" stop-opacity="0.0014"/><stop offset="0.938" stop-color="#fff" stop-opacity="0.0006"/><stop offset="1.000" stop-color="#fff" stop-opacity="0.0000"/></radialGradient><radialGradient id="g37" cx="0" cy="0" r="1" gradientUnits="userSpaceOnUse"><stop offset="0.000" stop-color="#fff" stop-opacity="0.0255"/><stop offset="0.062" stop-color="#fff" stop-opacity="0.0251"/><stop offset="0.125" stop-color="#fff" stop-opacity="0.0238"/><stop offset="0.188" stop-color="#fff" stop-opacity="0.0218"/><stop offset="0.250" stop-color="#fff" stop-opacity="0.0192"/><stop offset="0.312" stop-color="#fff" stop-opacity="0.0164"/><stop offset="0.375" stop-color="#fff" stop-opacity="0.0135"/><stop offset="0.438" stop-color="#fff" stop-opacity="0.0108"/><stop offset="0.500" stop-color="#fff" stop-opacity="0.0083"/><stop offset="0.562" stop-color="#fff" stop-opacity="0.0061"/><stop offset="0.625" stop-color="#fff" stop-opacity="0.0044"/><stop offset="0.688" stop-color="#fff" stop-opacity="0.0030"/><stop offset="0.750" stop-color="#fff" stop-opacity="0.0020"/><stop offset="0.812" stop-color="#fff" stop-opacity="0.0013"/><stop offset="0.875" stop-color="#fff" stop-opacity="0.0008"/><stop offset="0.938" stop-color="#fff" stop-opacity="0.0005"/><stop offset="1.000" stop-color="#fff" stop-opacity="0.0000"/></radialGradient><radialGradient id="g38" cx="0" cy="0" r="1" gradientUnits="userSpaceOnUse"><stop offset="0.000" stop-color="#fff" stop-opacity="0.0765"/><stop offset="0.062" stop-color="#fff" stop-opacity="0.0764"/><stop offset="0.125" stop-color="#fff" stop-opacity="0.0757"/><stop offset="0.188" stop-color="#fff" stop-opacity="0.0739"/><stop offset="0.250" stop-color="#fff" stop-opacity="0.0704"/><stop offset="0.312" stop-color="#fff" stop-opacity="0.0650"/><stop offset="0.375" stop-color="#fff" stop-opacity="0.0578"/><stop offset="0.438" stop-color="#fff" stop-opacity="0.0490"/><stop offset="0.500" stop-color="#fff" stop-opacity="0.0393"/><stop offset="0.562" stop-color="#fff" stop-opacity="0.0297"/><stop offset="0.625" stop-color="#fff" stop-opacity="0.0209"/><stop offset="0.688" stop-color="#fff" stop-opacity="0.0136"/><stop offset="0.750" stop-color="#fff" stop-opacity="0.0081"/><stop offset="0.812" stop-color="#fff" stop-opacity="0.0044"/><stop offset="0.875" stop-color="#fff" stop-opacity="0.0022"/><stop offset="0.938" stop-color="#fff" stop-opacity="0.0010"/><stop offset="1.000" stop-color="#fff" stop-opacity="0.0000"/></radialGradient><radialGradient id="g39" cx="0" cy="0" r="1" gradientUnits="userSpaceOnUse"><stop offset="0.000" stop-color="#fff" stop-opacity="0.1190"/><stop offset="0.062" stop-color="#fff" stop-opacity="0.1190"/><stop offset="0.125" stop-color="#fff" stop-opacity="0.1188"/><stop offset="0.188" stop-color="#fff" stop-opacity="0.1180"/><stop offset="0.250" stop-color="#fff" stop-opacity="0.1160"/><stop offset="0.312" stop-color="#fff" stop-opacity="0.1118"/><stop offset="0.375" stop-color="#fff" stop-opacity="0.1046"/><stop offset="0.438" stop-color="#fff" stop-opacity="0.0937"/><stop offset="0.500" stop-color="#fff" stop-opacity="0.0792"/><stop offset="0.562" stop-color="#fff" stop-opacity="0.0620"/><stop offset="0.625" stop-color="#fff" stop-opacity="0.0440"/><stop offset="0.688" stop-color="#fff" stop-opacity="0.0278"/><stop offset="0.750" stop-color="#fff" stop-opacity="0.0151"/><stop offset="0.812" stop-color="#fff" stop-opacity="0.0070"/><stop offset="0.875" stop-color="#fff" stop-opacity="0.0026"/><stop offset="0.938" stop-color="#fff" stop-opacity="0.0008"/><stop offset="1.000" stop-color="#fff" stop-opacity="0.0000"/></radialGradient><radialGradient id="g40" cx="0" cy="0" r="1" gradientUnits="userSpaceOnUse"><stop offset="0.000" stop-color="#fff" stop-opacity="0.2040"/><stop offset="0.062" stop-color="#fff" stop-opacity="0.2004"/><stop offset="0.125" stop-color="#fff" stop-opacity="0.1901"/><stop offset="0.188" stop-color="#fff" stop-opacity="0.1741"/><stop offset="0.250" stop-color="#fff" stop-opacity="0.1540"/><stop offset="0.312" stop-color="#fff" stop-opacity="0.1315"/><stop offset="0.375" stop-color="#fff" stop-opacity="0.1083"/><stop offset="0.438" stop-color="#fff" stop-opacity="0.0862"/><stop offset="0.500" stop-color="#fff" stop-opacity="0.0662"/><stop offset="0.562" stop-color="#fff" stop-opacity="0.0491"/><stop offset="0.625" stop-color="#fff" stop-opacity="0.0352"/><stop offset="0.688" stop-color="#fff" stop-opacity="0.0243"/><stop offset="0.750" stop-color="#fff" stop-opacity="0.0162"/><stop offset="0.812" stop-color="#fff" stop-opacity="0.0105"/><stop offset="0.875" stop-color="#fff" stop-opacity="0.0065"/><stop offset="0.938" stop-color="#fff" stop-opacity="0.0039"/><stop offset="1.000" stop-color="#fff" stop-opacity="0.0000"/></radialGradient><radialGradient id="g41" cx="0" cy="0" r="1" gradientUnits="userSpaceOnUse"><stop offset="0.000" stop-color="#fff" stop-opacity="0.3570"/><stop offset="0.062" stop-color="#fff" stop-opacity="0.3565"/><stop offset="0.125" stop-color="#fff" stop-opacity="0.3533"/><stop offset="0.188" stop-color="#fff" stop-opacity="0.3447"/><stop offset="0.250" stop-color="#fff" stop-opacity="0.3285"/><stop offset="0.312" stop-color="#fff" stop-opacity="0.3035"/><stop offset="0.375" stop-color="#fff" stop-opacity="0.2696"/><stop offset="0.438" stop-color="#fff" stop-opacity="0.2286"/><stop offset="0.500" stop-color="#fff" stop-opacity="0.1835"/><stop offset="0.562" stop-color="#fff" stop-opacity="0.1384"/><stop offset="0.625" stop-color="#fff" stop-opacity="0.0973"/><stop offset="0.688" stop-color="#fff" stop-opacity="0.0633"/><stop offset="0.750" stop-color="#fff" stop-opacity="0.0378"/><stop offset="0.812" stop-color="#fff" stop-opacity="0.0205"/><stop offset="0.875" stop-color="#fff" stop-opacity="0.0101"/><stop offset="0.938" stop-color="#fff" stop-opacity="0.0044"/><stop offset="1.000" stop-color="#fff" stop-opacity="0.0000"/></radialGradient><radialGradient id="g42" cx="0" cy="0" r="1" gradientUnits="userSpaceOnUse"><stop offset="0.000" stop-color="#fff" stop-opacity="0.7820"/><stop offset="0.062" stop-color="#fff" stop-opacity="0.7684"/><stop offset="0.125" stop-color="#fff" stop-opacity="0.7289"/><stop offset="0.188" stop-color="#fff" stop-opacity="0.6676"/><stop offset="0.250" stop-color="#fff" stop-opacity="0.5903"/><stop offset="0.312" stop-color="#fff" stop-opacity="0.5039"/><stop offset="0.375" stop-color="#fff" stop-opacity="0.4153"/><stop offset="0.438" stop-color="#fff" stop-opacity="0.3305"/><stop offset="0.500" stop-color="#fff" stop-opacity="0.2539"/><stop offset="0.562" stop-color="#fff" stop-opacity="0.1883"/><stop offset="0.625" stop-color="#fff" stop-opacity="0.1348"/><stop offset="0.688" stop-color="#fff" stop-opacity="0.0932"/><stop offset="0.750" stop-color="#fff" stop-opacity="0.0622"/><stop offset="0.812" stop-color="#fff" stop-opacity="0.0401"/><stop offset="0.875" stop-color="#fff" stop-opacity="0.0249"/><stop offset="0.938" stop-color="#fff" stop-opacity="0.0150"/><stop offset="1.000" stop-color="#fff" stop-opacity="0.0000"/></radialGradient><radialGradient id="g43" cx="0" cy="0" r="1" gradientUnits="userSpaceOnUse"><stop offset="0.000" stop-color="#fff" stop-opacity="0.6800"/><stop offset="0.062" stop-color="#fff" stop-opacity="0.6682"/><stop offset="0.125" stop-color="#fff" stop-opacity="0.6338"/><stop offset="0.188" stop-color="#fff" stop-opacity="0.5805"/><stop offset="0.250" stop-color="#fff" stop-opacity="0.5133"/><stop offset="0.312" stop-color="#fff" stop-opacity="0.4382"/><stop offset="0.375" stop-color="#fff" stop-opacity="0.3611"/><stop offset="0.438" stop-color="#fff" stop-opacity="0.2874"/><stop offset="0.500" stop-color="#fff" stop-opacity="0.2208"/><stop offset="0.562" stop-color="#fff" stop-opacity="0.1637"/><stop offset="0.625" stop-color="#fff" stop-opacity="0.1172"/><stop offset="0.688" stop-color="#fff" stop-opacity="0.0811"/><stop offset="0.750" stop-color="#fff" stop-opacity="0.0541"/><stop offset="0.812" stop-color="#fff" stop-opacity="0.0349"/><stop offset="0.875" stop-color="#fff" stop-opacity="0.0217"/><stop offset="0.938" stop-color="#fff" stop-opacity="0.0130"/><stop offset="1.000" stop-color="#fff" stop-opacity="0.0000"/></radialGradient><radialGradient id="g44" cx="0" cy="0" r="1" gradientUnits="userSpaceOnUse"><stop offset="0.000" stop-color="#fff" stop-opacity="0.4250"/><stop offset="0.062" stop-color="#fff" stop-opacity="0.4176"/><stop offset="0.125" stop-color="#fff" stop-opacity="0.3961"/><stop offset="0.188" stop-color="#fff" stop-opacity="0.3628"/><stop offset="0.250" stop-color="#fff" stop-opacity="0.3208"/><stop offset="0.312" stop-color="#fff" stop-opacity="0.2739"/><stop offset="0.375" stop-color="#fff" stop-opacity="0.2257"/><stop offset="0.438" stop-color="#fff" stop-opacity="0.1796"/><stop offset="0.500" stop-color="#fff" stop-opacity="0.1380"/><stop offset="0.562" stop-color="#fff" stop-opacity="0.1023"/><stop offset="0.625" stop-color="#fff" stop-opacity="0.0733"/><stop offset="0.688" stop-color="#fff" stop-opacity="0.0507"/><stop offset="0.750" stop-color="#fff" stop-opacity="0.0338"/><stop offset="0.812" stop-color="#fff" stop-opacity="0.0218"/><stop offset="0.875" stop-color="#fff" stop-opacity="0.0136"/><stop offset="0.938" stop-color="#fff" stop-opacity="0.0081"/><stop offset="1.000" stop-color="#fff" stop-opacity="0.0000"/></radialGradient><radialGradient id="g45" cx="0" cy="0" r="1" gradientUnits="userSpaceOnUse"><stop offset="0.000" stop-color="#fff" stop-opacity="0.4250"/><stop offset="0.062" stop-color="#fff" stop-opacity="0.4176"/><stop offset="0.125" stop-color="#fff" stop-opacity="0.3961"/><stop offset="0.188" stop-color="#fff" stop-opacity="0.3628"/><stop offset="0.250" stop-color="#fff" stop-opacity="0.3208"/><stop offset="0.312" stop-color="#fff" stop-opacity="0.2739"/><stop offset="0.375" stop-color="#fff" stop-opacity="0.2257"/><stop offset="0.438" stop-color="#fff" stop-opacity="0.1796"/><stop offset="0.500" stop-color="#fff" stop-opacity="0.1380"/><stop offset="0.562" stop-color="#fff" stop-opacity="0.1023"/><stop offset="0.625" stop-color="#fff" stop-opacity="0.0733"/><stop offset="0.688" stop-color="#fff" stop-opacity="0.0507"/><stop offset="0.750" stop-color="#fff" stop-opacity="0.0338"/><stop offset="0.812" stop-color="#fff" stop-opacity="0.0218"/><stop offset="0.875" stop-color="#fff" stop-opacity="0.0136"/><stop offset="0.938" stop-color="#fff" stop-opacity="0.0081"/><stop offset="1.000" stop-color="#fff" stop-opacity="0.0000"/></radialGradient><radialGradient id="g46" cx="0" cy="0" r="1" gradientUnits="userSpaceOnUse"><stop offset="0.000" stop-color="#fff" stop-opacity="0.1870"/><stop offset="0.062" stop-color="#fff" stop-opacity="0.1837"/><stop offset="0.125" stop-color="#fff" stop-opacity="0.1743"/><stop offset="0.188" stop-color="#fff" stop-opacity="0.1596"/><stop offset="0.250" stop-color="#fff" stop-opacity="0.1412"/><stop offset="0.312" stop-color="#fff" stop-opacity="0.1205"/><stop offset="0.375" stop-color="#fff" stop-opacity="0.0993"/><stop offset="0.438" stop-color="#fff" stop-opacity="0.0790"/><stop offset="0.500" stop-color="#fff" stop-opacity="0.0607"/><stop offset="0.562" stop-color="#fff" stop-opacity="0.0450"/><stop offset="0.625" stop-color="#fff" stop-opacity="0.0322"/><stop offset="0.688" stop-color="#fff" stop-opacity="0.0223"/><stop offset="0.750" stop-color="#fff" stop-opacity="0.0149"/><stop offset="0.812" stop-color="#fff" stop-opacity="0.0096"/><stop offset="0.875" stop-color="#fff" stop-opacity="0.0060"/><stop offset="0.938" stop-color="#fff" stop-opacity="0.0036"/><stop offset="1.000" stop-color="#fff" stop-opacity="0.0000"/></radialGradient><radialGradient id="g47" cx="0" cy="0" r="1" gradientUnits="userSpaceOnUse"><stop offset="0.000" stop-color="#fff" stop-opacity="0.1870"/><stop offset="0.062" stop-color="#fff" stop-opacity="0.1837"/><stop offset="0.125" stop-color="#fff" stop-opacity="0.1743"/><stop offset="0.188" stop-color="#fff" stop-opacity="0.1596"/><stop offset="0.250" stop-color="#fff" stop-opacity="0.1412"/><stop offset="0.312" stop-color="#fff" stop-opacity="0.1205"/><stop offset="0.375" stop-color="#fff" stop-opacity="0.0993"/><stop offset="0.438" stop-color="#fff" stop-opacity="0.0790"/><stop offset="0.500" stop-color="#fff" stop-opacity="0.0607"/><stop offset="0.562" stop-color="#fff" stop-opacity="0.0450"/><stop offset="0.625" stop-color="#fff" stop-opacity="0.0322"/><stop offset="0.688" stop-color="#fff" stop-opacity="0.0223"/><stop offset="0.750" stop-color="#fff" stop-opacity="0.0149"/><stop offset="0.812" stop-color="#fff" stop-opacity="0.0096"/><stop offset="0.875" stop-color="#fff" stop-opacity="0.0060"/><stop offset="0.938" stop-color="#fff" stop-opacity="0.0036"/><stop offset="1.000" stop-color="#fff" stop-opacity="0.0000"/></radialGradient><radialGradient id="g48" cx="0" cy="0" r="1" gradientUnits="userSpaceOnUse"><stop offset="0.000" stop-color="#fff" stop-opacity="0.0850"/><stop offset="0.062" stop-color="#fff" stop-opacity="0.0835"/><stop offset="0.125" stop-color="#fff" stop-opacity="0.0792"/><stop offset="0.188" stop-color="#fff" stop-opacity="0.0726"/><stop offset="0.250" stop-color="#fff" stop-opacity="0.0642"/><stop offset="0.312" stop-color="#fff" stop-opacity="0.0548"/><stop offset="0.375" stop-color="#fff" stop-opacity="0.0451"/><stop offset="0.438" stop-color="#fff" stop-opacity="0.0359"/><stop offset="0.500" stop-color="#fff" stop-opacity="0.0276"/><stop offset="0.562" stop-color="#fff" stop-opacity="0.0205"/><stop offset="0.625" stop-color="#fff" stop-opacity="0.0147"/><stop offset="0.688" stop-color="#fff" stop-opacity="0.0101"/><stop offset="0.750" stop-color="#fff" stop-opacity="0.0068"/><stop offset="0.812" stop-color="#fff" stop-opacity="0.0044"/><stop offset="0.875" stop-color="#fff" stop-opacity="0.0027"/><stop offset="0.938" stop-color="#fff" stop-opacity="0.0016"/><stop offset="1.000" stop-color="#fff" stop-opacity="0.0000"/></radialGradient><radialGradient id="g49" cx="0" cy="0" r="1" gradientUnits="userSpaceOnUse"><stop offset="0.000" stop-color="#000" stop-opacity="0.3825"/><stop offset="0.062" stop-color="#000" stop-opacity="0.3758"/><stop offset="0.125" stop-color="#000" stop-opacity="0.3565"/><stop offset="0.188" stop-color="#000" stop-opacity="0.3265"/><stop offset="0.250" stop-color="#000" stop-opacity="0.2887"/><stop offset="0.312" stop-color="#000" stop-opacity="0.2465"/><stop offset="0.375" stop-color="#000" stop-opacity="0.2031"/><stop offset="0.438" stop-color="#000" stop-opacity="0.1616"/><stop offset="0.500" stop-color="#000" stop-opacity="0.1242"/><stop offset="0.562" stop-color="#000" stop-opacity="0.0921"/><stop offset="0.625" stop-color="#000" stop-opacity="0.0660"/><stop offset="0.688" stop-color="#000" stop-opacity="0.0456"/><stop offset="0.750" stop-color="#000" stop-opacity="0.0304"/><stop offset="0.812" stop-color="#000" stop-opacity="0.0196"/><stop offset="0.875" stop-color="#000" stop-opacity="0.0122"/><stop offset="0.938" stop-color="#000" stop-opacity="0.0073"/><stop offset="1.000" stop-color="#000" stop-opacity="0.0000"/></radialGradient><radialGradient id="g50" cx="0" cy="0" r="1" gradientUnits="userSpaceOnUse"><stop offset="0.000" stop-color="#fff" stop-opacity="0.1360"/><stop offset="0.062" stop-color="#fff" stop-opacity="0.1336"/><stop offset="0.125" stop-color="#fff" stop-opacity="0.1268"/><stop offset="0.188" stop-color="#fff" stop-opacity="0.1161"/><stop offset="0.250" stop-color="#fff" stop-opacity="0.1027"/><stop offset="0.312" stop-color="#fff" stop-opacity="0.0876"/><stop offset="0.375" stop-color="#fff" stop-opacity="0.0722"/><stop offset="0.438" stop-color="#fff" stop-opacity="0.0575"/><stop offset="0.500" stop-color="#fff" stop-opacity="0.0442"/><stop offset="0.562" stop-color="#fff" stop-opacity="0.0327"/><stop offset="0.625" stop-color="#fff" stop-opacity="0.0234"/><stop offset="0.688" stop-color="#fff" stop-opacity="0.0162"/><stop offset="0.750" stop-color="#fff" stop-opacity="0.0108"/><stop offset="0.812" stop-color="#fff" stop-opacity="0.0070"/><stop offset="0.875" stop-color="#fff" stop-opacity="0.0043"/><stop offset="0.938" stop-color="#fff" stop-opacity="0.0026"/><stop offset="1.000" stop-color="#fff" stop-opacity="0.0000"/></radialGradient><radialGradient id="g51" cx="0" cy="0" r="1" gradientUnits="userSpaceOnUse"><stop offset="0.000" stop-color="#fff" stop-opacity="0.0425"/><stop offset="0.062" stop-color="#fff" stop-opacity="0.0418"/><stop offset="0.125" stop-color="#fff" stop-opacity="0.0396"/><stop offset="0.188" stop-color="#fff" stop-opacity="0.0363"/><stop offset="0.250" stop-color="#fff" stop-opacity="0.0321"/><stop offset="0.312" stop-color="#fff" stop-opacity="0.0274"/><stop offset="0.375" stop-color="#fff" stop-opacity="0.0226"/><stop offset="0.438" stop-color="#fff" stop-opacity="0.0180"/><stop offset="0.500" stop-color="#fff" stop-opacity="0.0138"/><stop offset="0.562" stop-color="#fff" stop-opacity="0.0102"/><stop offset="0.625" stop-color="#fff" stop-opacity="0.0073"/><stop offset="0.688" stop-color="#fff" stop-opacity="0.0051"/><stop offset="0.750" stop-color="#fff" stop-opacity="0.0034"/><stop offset="0.812" stop-color="#fff" stop-opacity="0.0022"/><stop offset="0.875" stop-color="#fff" stop-opacity="0.0014"/><stop offset="0.938" stop-color="#fff" stop-opacity="0.0008"/><stop offset="1.000" stop-color="#fff" stop-opacity="0.0000"/></radialGradient><radialGradient id="g52" cx="0" cy="0" r="1" gradientUnits="userSpaceOnUse"><stop offset="0.000" stop-color="#000" stop-opacity="0.5100"/><stop offset="0.062" stop-color="#000" stop-opacity="0.5099"/><stop offset="0.125" stop-color="#000" stop-opacity="0.5092"/><stop offset="0.188" stop-color="#000" stop-opacity="0.5059"/><stop offset="0.250" stop-color="#000" stop-opacity="0.4972"/><stop offset="0.312" stop-color="#000" stop-opacity="0.4793"/><stop offset="0.375" stop-color="#000" stop-opacity="0.4483"/><stop offset="0.438" stop-color="#000" stop-opacity="0.4017"/><stop offset="0.500" stop-color="#000" stop-opacity="0.3394"/><stop offset="0.562" stop-color="#000" stop-opacity="0.2656"/><stop offset="0.625" stop-color="#000" stop-opacity="0.1887"/><stop offset="0.688" stop-color="#000" stop-opacity="0.1189"/><stop offset="0.750" stop-color="#000" stop-opacity="0.0649"/><stop offset="0.812" stop-color="#000" stop-opacity="0.0298"/><stop offset="0.875" stop-color="#000" stop-opacity="0.0112"/><stop offset="0.938" stop-color="#000" stop-opacity="0.0033"/><stop offset="1.000" stop-color="#000" stop-opacity="0.0000"/></radialGradient><radialGradient id="g53" cx="0" cy="0" r="1" gradientUnits="userSpaceOnUse"><stop offset="0.000" stop-color="#000" stop-opacity="0.2550"/><stop offset="0.062" stop-color="#000" stop-opacity="0.2506"/><stop offset="0.125" stop-color="#000" stop-opacity="0.2377"/><stop offset="0.188" stop-color="#000" stop-opacity="0.2177"/><stop offset="0.250" stop-color="#000" stop-opacity="0.1925"/><stop offset="0.312" stop-color="#000" stop-opacity="0.1643"/><stop offset="0.375" stop-color="#000" stop-opacity="0.1354"/><stop offset="0.438" stop-color="#000" stop-opacity="0.1078"/><stop offset="0.500" stop-color="#000" stop-opacity="0.0828"/><stop offset="0.562" stop-color="#000" stop-opacity="0.0614"/><stop offset="0.625" stop-color="#000" stop-opacity="0.0440"/><stop offset="0.688" stop-color="#000" stop-opacity="0.0304"/><stop offset="0.750" stop-color="#000" stop-opacity="0.0203"/><stop offset="0.812" stop-color="#000" stop-opacity="0.0131"/><stop offset="0.875" stop-color="#000" stop-opacity="0.0081"/><stop offset="0.938" stop-color="#000" stop-opacity="0.0049"/><stop offset="1.000" stop-color="#000" stop-opacity="0.0000"/></radialGradient><radialGradient id="g54" cx="0" cy="0" r="1" gradientUnits="userSpaceOnUse"><stop offset="0.000" stop-color="#000" stop-opacity="0.2550"/><stop offset="0.062" stop-color="#000" stop-opacity="0.2506"/><stop offset="0.125" stop-color="#000" stop-opacity="0.2377"/><stop offset="0.188" stop-color="#000" stop-opacity="0.2177"/><stop offset="0.250" stop-color="#000" stop-opacity="0.1925"/><stop offset="0.312" stop-color="#000" stop-opacity="0.1643"/><stop offset="0.375" stop-color="#000" stop-opacity="0.1354"/><stop offset="0.438" stop-color="#000" stop-opacity="0.1078"/><stop offset="0.500" stop-color="#000" stop-opacity="0.0828"/><stop offset="0.562" stop-color="#000" stop-opacity="0.0614"/><stop offset="0.625" stop-color="#000" stop-opacity="0.0440"/><stop offset="0.688" stop-color="#000" stop-opacity="0.0304"/><stop offset="0.750" stop-color="#000" stop-opacity="0.0203"/><stop offset="0.812" stop-color="#000" stop-opacity="0.0131"/><stop offset="0.875" stop-color="#000" stop-opacity="0.0081"/><stop offset="0.938" stop-color="#000" stop-opacity="0.0049"/><stop offset="1.000" stop-color="#000" stop-opacity="0.0000"/></radialGradient><radialGradient id="g55" cx="0" cy="0" r="1" gradientUnits="userSpaceOnUse"><stop offset="0.000" stop-color="#000" stop-opacity="0.2550"/><stop offset="0.062" stop-color="#000" stop-opacity="0.2506"/><stop offset="0.125" stop-color="#000" stop-opacity="0.2377"/><stop offset="0.188" stop-color="#000" stop-opacity="0.2177"/><stop offset="0.250" stop-color="#000" stop-opacity="0.1925"/><stop offset="0.312" stop-color="#000" stop-opacity="0.1643"/><stop offset="0.375" stop-color="#000" stop-opacity="0.1354"/><stop offset="0.438" stop-color="#000" stop-opacity="0.1078"/><stop offset="0.500" stop-color="#000" stop-opacity="0.0828"/><stop offset="0.562" stop-color="#000" stop-opacity="0.0614"/><stop offset="0.625" stop-color="#000" stop-opacity="0.0440"/><stop offset="0.688" stop-color="#000" stop-opacity="0.0304"/><stop offset="0.750" stop-color="#000" stop-opacity="0.0203"/><stop offset="0.812" stop-color="#000" stop-opacity="0.0131"/><stop offset="0.875" stop-color="#000" stop-opacity="0.0081"/><stop offset="0.938" stop-color="#000" stop-opacity="0.0049"/><stop offset="1.000" stop-color="#000" stop-opacity="0.0000"/></radialGradient><radialGradient id="g56" cx="0" cy="0" r="1" gradientUnits="userSpaceOnUse"><stop offset="0.000" stop-color="#000" stop-opacity="0.2550"/><stop offset="0.062" stop-color="#000" stop-opacity="0.2506"/><stop offset="0.125" stop-color="#000" stop-opacity="0.2377"/><stop offset="0.188" stop-color="#000" stop-opacity="0.2177"/><stop offset="0.250" stop-color="#000" stop-opacity="0.1925"/><stop offset="0.312" stop-color="#000" stop-opacity="0.1643"/><stop offset="0.375" stop-color="#000" stop-opacity="0.1354"/><stop offset="0.438" stop-color="#000" stop-opacity="0.1078"/><stop offset="0.500" stop-color="#000" stop-opacity="0.0828"/><stop offset="0.562" stop-color="#000" stop-opacity="0.0614"/><stop offset="0.625" stop-color="#000" stop-opacity="0.0440"/><stop offset="0.688" stop-color="#000" stop-opacity="0.0304"/><stop offset="0.750" stop-color="#000" stop-opacity="0.0203"/><stop offset="0.812" stop-color="#000" stop-opacity="0.0131"/><stop offset="0.875" stop-color="#000" stop-opacity="0.0081"/><stop offset="0.938" stop-color="#000" stop-opacity="0.0049"/><stop offset="1.000" stop-color="#000" stop-opacity="0.0000"/></radialGradient><radialGradient id="g57" cx="0" cy="0" r="1" gradientUnits="userSpaceOnUse"><stop offset="0.000" stop-color="#000" stop-opacity="0.2550"/><stop offset="0.062" stop-color="#000" stop-opacity="0.2506"/><stop offset="0.125" stop-color="#000" stop-opacity="0.2377"/><stop offset="0.188" stop-color="#000" stop-opacity="0.2177"/><stop offset="0.250" stop-color="#000" stop-opacity="0.1925"/><stop offset="0.312" stop-color="#000" stop-opacity="0.1643"/><stop offset="0.375" stop-color="#000" stop-opacity="0.1354"/><stop offset="0.438" stop-color="#000" stop-opacity="0.1078"/><stop offset="0.500" stop-color="#000" stop-opacity="0.0828"/><stop offset="0.562" stop-color="#000" stop-opacity="0.0614"/><stop offset="0.625" stop-color="#000" stop-opacity="0.0440"/><stop offset="0.688" stop-color="#000" stop-opacity="0.0304"/><stop offset="0.750" stop-color="#000" stop-opacity="0.0203"/><stop offset="0.812" stop-color="#000" stop-opacity="0.0131"/><stop offset="0.875" stop-color="#000" stop-opacity="0.0081"/><stop offset="0.938" stop-color="#000" stop-opacity="0.0049"/><stop offset="1.000" stop-color="#000" stop-opacity="0.0000"/></radialGradient><radialGradient id="g58" cx="0" cy="0" r="1" gradientUnits="userSpaceOnUse"><stop offset="0.000" stop-color="#000" stop-opacity="0.2550"/><stop offset="0.062" stop-color="#000" stop-opacity="0.2506"/><stop offset="0.125" stop-color="#000" stop-opacity="0.2377"/><stop offset="0.188" stop-color="#000" stop-opacity="0.2177"/><stop offset="0.250" stop-color="#000" stop-opacity="0.1925"/><stop offset="0.312" stop-color="#000" stop-opacity="0.1643"/><stop offset="0.375" stop-color="#000" stop-opacity="0.1354"/><stop offset="0.438" stop-color="#000" stop-opacity="0.1078"/><stop offset="0.500" stop-color="#000" stop-opacity="0.0828"/><stop offset="0.562" stop-color="#000" stop-opacity="0.0614"/><stop offset="0.625" stop-color="#000" stop-opacity="0.0440"/><stop offset="0.688" stop-color="#000" stop-opacity="0.0304"/><stop offset="0.750" stop-color="#000" stop-opacity="0.0203"/><stop offset="0.812" stop-color="#000" stop-opacity="0.0131"/><stop offset="0.875" stop-color="#000" stop-opacity="0.0081"/><stop offset="0.938" stop-color="#000" stop-opacity="0.0049"/><stop offset="1.000" stop-color="#000" stop-opacity="0.0000"/></radialGradient><radialGradient id="g59" cx="0" cy="0" r="1" gradientUnits="userSpaceOnUse"><stop offset="0.000" stop-color="#000" stop-opacity="0.2550"/><stop offset="0.062" stop-color="#000" stop-opacity="0.2506"/><stop offset="0.125" stop-color="#000" stop-opacity="0.2377"/><stop offset="0.188" stop-color="#000" stop-opacity="0.2177"/><stop offset="0.250" stop-color="#000" stop-opacity="0.1925"/><stop offset="0.312" stop-color="#000" stop-opacity="0.1643"/><stop offset="0.375" stop-color="#000" stop-opacity="0.1354"/><stop offset="0.438" stop-color="#000" stop-opacity="0.1078"/><stop offset="0.500" stop-color="#000" stop-opacity="0.0828"/><stop offset="0.562" stop-color="#000" stop-opacity="0.0614"/><stop offset="0.625" stop-color="#000" stop-opacity="0.0440"/><stop offset="0.688" stop-color="#000" stop-opacity="0.0304"/><stop offset="0.750" stop-color="#000" stop-opacity="0.0203"/><stop offset="0.812" stop-color="#000" stop-opacity="0.0131"/><stop offset="0.875" stop-color="#000" stop-opacity="0.0081"/><stop offset="0.938" stop-color="#000" stop-opacity="0.0049"/><stop offset="1.000" stop-color="#000" stop-opacity="0.0000"/></radialGradient><radialGradient id="g60" cx="0" cy="0" r="1" gradientUnits="userSpaceOnUse"><stop offset="0.000" stop-color="#000" stop-opacity="0.2550"/><stop offset="0.062" stop-color="#000" stop-opacity="0.2506"/><stop offset="0.125" stop-color="#000" stop-opacity="0.2377"/><stop offset="0.188" stop-color="#000" stop-opacity="0.2177"/><stop offset="0.250" stop-color="#000" stop-opacity="0.1925"/><stop offset="0.312" stop-color="#000" stop-opacity="0.1643"/><stop offset="0.375" stop-color="#000" stop-opacity="0.1354"/><stop offset="0.438" stop-color="#000" stop-opacity="0.1078"/><stop offset="0.500" stop-color="#000" stop-opacity="0.0828"/><stop offset="0.562" stop-color="#000" stop-opacity="0.0614"/><stop offset="0.625" stop-color="#000" stop-opacity="0.0440"/><stop offset="0.688" stop-color="#000" stop-opacity="0.0304"/><stop offset="0.750" stop-color="#000" stop-opacity="0.0203"/><stop offset="0.812" stop-color="#000" stop-opacity="0.0131"/><stop offset="0.875" stop-color="#000" stop-opacity="0.0081"/><stop offset="0.938" stop-color="#000" stop-opacity="0.0049"/><stop offset="1.000" stop-color="#000" stop-opacity="0.0000"/></radialGradient><radialGradient id="g61" cx="0" cy="0" r="1" gradientUnits="userSpaceOnUse"><stop offset="0.000" stop-color="#000" stop-opacity="0.2550"/><stop offset="0.062" stop-color="#000" stop-opacity="0.2506"/><stop offset="0.125" stop-color="#000" stop-opacity="0.2377"/><stop offset="0.188" stop-color="#000" stop-opacity="0.2177"/><stop offset="0.250" stop-color="#000" stop-opacity="0.1925"/><stop offset="0.312" stop-color="#000" stop-opacity="0.1643"/><stop offset="0.375" stop-color="#000" stop-opacity="0.1354"/><stop offset="0.438" stop-color="#000" stop-opacity="0.1078"/><stop offset="0.500" stop-color="#000" stop-opacity="0.0828"/><stop offset="0.562" stop-color="#000" stop-opacity="0.0614"/><stop offset="0.625" stop-color="#000" stop-opacity="0.0440"/><stop offset="0.688" stop-color="#000" stop-opacity="0.0304"/><stop offset="0.750" stop-color="#000" stop-opacity="0.0203"/><stop offset="0.812" stop-color="#000" stop-opacity="0.0131"/><stop offset="0.875" stop-color="#000" stop-opacity="0.0081"/><stop offset="0.938" stop-color="#000" stop-opacity="0.0049"/><stop offset="1.000" stop-color="#000" stop-opacity="0.0000"/></radialGradient><radialGradient id="g62" cx="0" cy="0" r="1" gradientUnits="userSpaceOnUse"><stop offset="0.000" stop-color="#000" stop-opacity="0.2550"/><stop offset="0.062" stop-color="#000" stop-opacity="0.2506"/><stop offset="0.125" stop-color="#000" stop-opacity="0.2377"/><stop offset="0.188" stop-color="#000" stop-opacity="0.2177"/><stop offset="0.250" stop-color="#000" stop-opacity="0.1925"/><stop offset="0.312" stop-color="#000" stop-opacity="0.1643"/><stop offset="0.375" stop-color="#000" stop-opacity="0.1354"/><stop offset="0.438" stop-color="#000" stop-opacity="0.1078"/><stop offset="0.500" stop-color="#000" stop-opacity="0.0828"/><stop offset="0.562" stop-color="#000" stop-opacity="0.0614"/><stop offset="0.625" stop-color="#000" stop-opacity="0.0440"/><stop offset="0.688" stop-color="#000" stop-opacity="0.0304"/><stop offset="0.750" stop-color="#000" stop-opacity="0.0203"/><stop offset="0.812" stop-color="#000" stop-opacity="0.0131"/><stop offset="0.875" stop-color="#000" stop-opacity="0.0081"/><stop offset="0.938" stop-color="#000" stop-opacity="0.0049"/><stop offset="1.000" stop-color="#000" stop-opacity="0.0000"/></radialGradient><radialGradient id="g63" cx="0" cy="0" r="1" gradientUnits="userSpaceOnUse"><stop offset="0.000" stop-color="#fff" stop-opacity="0.0340"/><stop offset="0.062" stop-color="#fff" stop-opacity="0.0334"/><stop offset="0.125" stop-color="#fff" stop-opacity="0.0317"/><stop offset="0.188" stop-color="#fff" stop-opacity="0.0290"/><stop offset="0.250" stop-color="#fff" stop-opacity="0.0257"/><stop offset="0.312" stop-color="#fff" stop-opacity="0.0219"/><stop offset="0.375" stop-color="#fff" stop-opacity="0.0181"/><stop offset="0.438" stop-color="#fff" stop-opacity="0.0144"/><stop offset="0.500" stop-color="#fff" stop-opacity="0.0110"/><stop offset="0.562" stop-color="#fff" stop-opacity="0.0082"/><stop offset="0.625" stop-color="#fff" stop-opacity="0.0059"/><stop offset="0.688" stop-color="#fff" stop-opacity="0.0041"/><stop offset="0.750" stop-color="#fff" stop-opacity="0.0027"/><stop offset="0.812" stop-color="#fff" stop-opacity="0.0017"/><stop offset="0.875" stop-color="#fff" stop-opacity="0.0011"/><stop offset="0.938" stop-color="#fff" stop-opacity="0.0007"/><stop offset="1.000" stop-color="#fff" stop-opacity="0.0000"/></radialGradient><radialGradient id="g64" cx="0" cy="0" r="1" gradientUnits="userSpaceOnUse"><stop offset="0.000" stop-color="#fff" stop-opacity="0.0255"/><stop offset="0.062" stop-color="#fff" stop-opacity="0.0251"/><stop offset="0.125" stop-color="#fff" stop-opacity="0.0238"/><stop offset="0.188" stop-color="#fff" stop-opacity="0.0218"/><stop offset="0.250" stop-color="#fff" stop-opacity="0.0192"/><stop offset="0.312" stop-color="#fff" stop-opacity="0.0164"/><stop offset="0.375" stop-color="#fff" stop-opacity="0.0135"/><stop offset="0.438" stop-color="#fff" stop-opacity="0.0108"/><stop offset="0.500" stop-color="#fff" stop-opacity="0.0083"/><stop offset="0.562" stop-color="#fff" stop-opacity="0.0061"/><stop offset="0.625" stop-color="#fff" stop-opacity="0.0044"/><stop offset="0.688" stop-color="#fff" stop-opacity="0.0030"/><stop offset="0.750" stop-color="#fff" stop-opacity="0.0020"/><stop offset="0.812" stop-color="#fff" stop-opacity="0.0013"/><stop offset="0.875" stop-color="#fff" stop-opacity="0.0008"/><stop offset="0.938" stop-color="#fff" stop-opacity="0.0005"/><stop offset="1.000" stop-color="#fff" stop-opacity="0.0000"/></radialGradient><radialGradient id="g65" cx="0" cy="0" r="1" gradientUnits="userSpaceOnUse"><stop offset="0.000" stop-color="#fff" stop-opacity="0.0298"/><stop offset="0.062" stop-color="#fff" stop-opacity="0.0292"/><stop offset="0.125" stop-color="#fff" stop-opacity="0.0277"/><stop offset="0.188" stop-color="#fff" stop-opacity="0.0254"/><stop offset="0.250" stop-color="#fff" stop-opacity="0.0225"/><stop offset="0.312" stop-color="#fff" stop-opacity="0.0192"/><stop offset="0.375" stop-color="#fff" stop-opacity="0.0158"/><stop offset="0.438" stop-color="#fff" stop-opacity="0.0126"/><stop offset="0.500" stop-color="#fff" stop-opacity="0.0097"/><stop offset="0.562" stop-color="#fff" stop-opacity="0.0072"/><stop offset="0.625" stop-color="#fff" stop-opacity="0.0051"/><stop offset="0.688" stop-color="#fff" stop-opacity="0.0035"/><stop offset="0.750" stop-color="#fff" stop-opacity="0.0024"/><stop offset="0.812" stop-color="#fff" stop-opacity="0.0015"/><stop offset="0.875" stop-color="#fff" stop-opacity="0.0009"/><stop offset="0.938" stop-color="#fff" stop-opacity="0.0006"/><stop offset="1.000" stop-color="#fff" stop-opacity="0.0000"/></radialGradient><radialGradient id="g66" cx="0" cy="0" r="1" gradientUnits="userSpaceOnUse"><stop offset="0.000" stop-color="#fff" stop-opacity="0.0255"/><stop offset="0.062" stop-color="#fff" stop-opacity="0.0251"/><stop offset="0.125" stop-color="#fff" stop-opacity="0.0238"/><stop offset="0.188" stop-color="#fff" stop-opacity="0.0218"/><stop offset="0.250" stop-color="#fff" stop-opacity="0.0192"/><stop offset="0.312" stop-color="#fff" stop-opacity="0.0164"/><stop offset="0.375" stop-color="#fff" stop-opacity="0.0135"/><stop offset="0.438" stop-color="#fff" stop-opacity="0.0108"/><stop offset="0.500" stop-color="#fff" stop-opacity="0.0083"/><stop offset="0.562" stop-color="#fff" stop-opacity="0.0061"/><stop offset="0.625" stop-color="#fff" stop-opacity="0.0044"/><stop offset="0.688" stop-color="#fff" stop-opacity="0.0030"/><stop offset="0.750" stop-color="#fff" stop-opacity="0.0020"/><stop offset="0.812" stop-color="#fff" stop-opacity="0.0013"/><stop offset="0.875" stop-color="#fff" stop-opacity="0.0008"/><stop offset="0.938" stop-color="#fff" stop-opacity="0.0005"/><stop offset="1.000" stop-color="#fff" stop-opacity="0.0000"/></radialGradient>
<g id="gal_a" clip-path="url(#det_a)"><rect x="99.5" y="88.0" width="283.0" height="305.0" fill="url(#dg_a)"/><rect x="99.5" y="316" width="1.6" height="77" fill="#fff" fill-opacity="0.03"/><circle r="1" fill="url(#g1)" transform="translate(248.0 205.0) rotate(-65.0) scale(174.00 132.00)"/><circle r="1" fill="url(#g2)" transform="translate(205.0 300.0) rotate(-60.0) scale(165.00 135.00)"/><circle r="1" fill="url(#g3)" transform="translate(252.0 172.0) rotate(-62.0) scale(162.80 101.20)"/><circle r="1" fill="url(#g4)" transform="translate(268.0 150.0) rotate(-60.0) scale(150.00 114.00)"/><circle r="1" fill="url(#g5)" transform="translate(257.0 158.0) rotate(-58.0) scale(110.00 59.40)"/><circle r="1" fill="url(#g6)" transform="translate(227.0 221.0) rotate(-35.0) scale(95.00 79.80)"/><circle r="1" fill="url(#g7)" transform="translate(229.0 217.0) rotate(-68.0) scale(81.00 57.00)"/><circle r="1" fill="url(#g8)" transform="translate(231.0 218.5) rotate(-80.0) scale(28.60 20.90)"/><circle r="1" fill="url(#g9)" transform="translate(225.0 231.0) rotate(-60.0) scale(10.80 7.80)"/><circle r="1" fill="url(#g10)" transform="translate(228.2 225.0) rotate(0.0) scale(10.80 8.10)"/><circle r="1" fill="url(#g11)" transform="translate(232.4 227.0) rotate(0.0) scale(8.40 6.90)"/><circle r="1" fill="url(#g12)" transform="translate(226.3 209.5) rotate(-20.0) scale(10.80 13.80)"/><circle r="1" fill="url(#g13)" transform="translate(235.6 216.8) rotate(0.0) scale(7.20 7.20)"/><circle r="1" fill="url(#g14)" transform="translate(249.3 190.4) rotate(-30.0) scale(16.50 12.60)"/><circle r="1" fill="url(#g15)" transform="translate(243.0 199.0) rotate(-45.0) scale(15.00 10.50)"/><circle r="1" fill="url(#g16)" transform="translate(220.4 228.2) rotate(0.0) scale(6.90 6.90)"/><circle r="1" fill="url(#g17)" transform="translate(200.3 254.5) rotate(25.0) scale(27.00 15.00)"/><circle r="1" fill="url(#g18)" transform="translate(257.0 145.0) rotate(-40.0) scale(39.00 9.00)"/><circle r="1" fill="url(#g19)" transform="translate(290.5 166.8) rotate(30.0) scale(15.20 2.28)"/><circle r="1" fill="url(#g20)" transform="translate(225.4 130.1) rotate(0.0) scale(3.90 3.90)"/><circle r="1" fill="url(#g21)" transform="translate(230.5 168.2) rotate(0.0) scale(3.90 3.90)"/><circle r="1" fill="url(#g22)" transform="translate(263.5 125.0) rotate(0.0) scale(3.90 3.90)"/><circle r="1" fill="url(#g23)" transform="translate(196.9 211.5) rotate(0.0) scale(3.90 3.90)"/><circle r="1" fill="url(#g24)" transform="translate(270.9 202.9) rotate(0.0) scale(3.90 3.90)"/><circle r="1" fill="url(#g25)" transform="translate(309.6 199.0) rotate(0.0) scale(3.90 3.90)"/><circle r="1" fill="url(#g26)" transform="translate(238.5 245.0) rotate(0.0) scale(3.90 3.90)"/><circle r="1" fill="url(#g27)" transform="translate(179.3 234.2) rotate(0.0) scale(3.90 3.90)"/><circle r="1" fill="url(#g28)" transform="translate(151.4 137.5) rotate(0.0) scale(3.90 3.90)"/><circle r="1" fill="url(#g29)" transform="translate(232.0 206.0) rotate(0.0) scale(3.90 3.90)"/><circle r="1" fill="url(#g30)" transform="translate(106.0 220.0) rotate(0.0) scale(7.50 7.50)"/><circle r="1" fill="url(#g31)" transform="translate(109.4 330.0) rotate(0.0) scale(8.40 8.40)"/><circle r="1" fill="url(#g32)" transform="translate(335.0 286.0) rotate(0.0) scale(7.50 7.50)"/><circle r="1" fill="url(#g33)" transform="translate(141.5 167.0) rotate(0.0) scale(7.50 7.50)"/></g><g id="gal_b" clip-path="url(#det_b)"><rect x="101.5" y="88.0" width="281.0" height="303.0" fill="url(#dg_b)"/><rect x="101.5" y="316" width="1.6" height="75" fill="#fff" fill-opacity="0.03"/><circle r="1" fill="url(#g34)" transform="translate(248.0 205.0) rotate(-65.0) scale(168.78 128.04)"/><circle r="1" fill="url(#g35)" transform="translate(205.0 300.0) rotate(-60.0) scale(160.05 130.95)"/><circle r="1" fill="url(#g36)" transform="translate(252.0 172.0) rotate(-62.0) scale(157.92 98.16)"/><circle r="1" fill="url(#g37)" transform="translate(268.0 150.0) rotate(-60.0) scale(145.50 110.58)"/><circle r="1" fill="url(#g38)" transform="translate(257.0 158.0) rotate(-58.0) scale(106.70 57.62)"/><circle r="1" fill="url(#g39)" transform="translate(227.0 221.0) rotate(-35.0) scale(92.15 77.41)"/><circle r="1" fill="url(#g40)" transform="translate(229.0 217.0) rotate(-68.0) scale(78.57 55.29)"/><circle r="1" fill="url(#g41)" transform="translate(231.0 218.5) rotate(-80.0) scale(27.74 20.27)"/><circle r="1" fill="url(#g42)" transform="translate(225.0 231.0) rotate(-60.0) scale(10.48 7.57)"/><circle r="1" fill="url(#g43)" transform="translate(228.2 225.0) rotate(0.0) scale(10.48 7.86)"/><circle r="1" fill="url(#g44)" transform="translate(232.4 227.0) rotate(0.0) scale(8.15 6.69)"/><circle r="1" fill="url(#g45)" transform="translate(226.3 209.5) rotate(-20.0) scale(10.48 13.39)"/><circle r="1" fill="url(#g46)" transform="translate(235.6 216.8) rotate(0.0) scale(6.98 6.98)"/><circle r="1" fill="url(#g47)" transform="translate(249.3 190.4) rotate(-30.0) scale(16.00 12.22)"/><circle r="1" fill="url(#g48)" transform="translate(243.0 199.0) rotate(-45.0) scale(14.55 10.19)"/><circle r="1" fill="url(#g49)" transform="translate(220.4 228.2) rotate(0.0) scale(6.69 6.69)"/><circle r="1" fill="url(#g50)" transform="translate(200.3 254.5) rotate(25.0) scale(26.19 14.55)"/><circle r="1" fill="url(#g51)" transform="translate(257.0 145.0) rotate(-40.0) scale(37.83 8.73)"/><circle r="1" fill="url(#g52)" transform="translate(290.5 166.8) rotate(30.0) scale(14.74 2.21)"/><circle r="1" fill="url(#g53)" transform="translate(225.4 130.1) rotate(0.0) scale(3.78 3.78)"/><circle r="1" fill="url(#g54)" transform="translate(230.5 168.2) rotate(0.0) scale(3.78 3.78)"/><circle r="1" fill="url(#g55)" transform="translate(263.5 125.0) rotate(0.0) scale(3.78 3.78)"/><circle r="1" fill="url(#g56)" transform="translate(196.9 211.5) rotate(0.0) scale(3.78 3.78)"/><circle r="1" fill="url(#g57)" transform="translate(270.9 202.9) rotate(0.0) scale(3.78 3.78)"/><circle r="1" fill="url(#g58)" transform="translate(309.6 199.0) rotate(0.0) scale(3.78 3.78)"/><circle r="1" fill="url(#g59)" transform="translate(238.5 245.0) rotate(0.0) scale(3.78 3.78)"/><circle r="1" fill="url(#g60)" transform="translate(179.3 234.2) rotate(0.0) scale(3.78 3.78)"/><circle r="1" fill="url(#g61)" transform="translate(151.4 137.5) rotate(0.0) scale(3.78 3.78)"/><circle r="1" fill="url(#g62)" transform="translate(232.0 206.0) rotate(0.0) scale(3.78 3.78)"/><circle r="1" fill="url(#g63)" transform="translate(106.0 220.0) rotate(0.0) scale(7.27 7.27)"/><circle r="1" fill="url(#g64)" transform="translate(109.4 330.0) rotate(0.0) scale(8.15 8.15)"/><circle r="1" fill="url(#g65)" transform="translate(335.0 286.0) rotate(0.0) scale(7.27 7.27)"/><circle r="1" fill="url(#g66)" transform="translate(141.5 167.0) rotate(0.0) scale(7.27 7.27)"/></g>
<linearGradient id="cbar" x1="0" y1="1" x2="0" y2="0"><stop offset="0.0000" stop-color="#440154"/><stop offset="0.0156" stop-color="#46075a"/><stop offset="0.0312" stop-color="#470d60"/><stop offset="0.0469" stop-color="#471365"/><stop offset="0.0625" stop-color="#48186a"/><stop offset="0.0781" stop-color="#481d6f"/><stop offset="0.0938" stop-color="#482374"/><stop offset="0.1094" stop-color="#482878"/><stop offset="0.1250" stop-color="#472d7b"/><stop offset="0.1406" stop-color="#46327e"/><stop offset="0.1562" stop-color="#453781"/><stop offset="0.1719" stop-color="#443b84"/><stop offset="0.1875" stop-color="#424086"/><stop offset="0.2031" stop-color="#404588"/><stop offset="0.2188" stop-color="#3e4989"/><stop offset="0.2344" stop-color="#3d4e8a"/><stop offset="0.2500" stop-color="#3b528b"/><stop offset="0.2656" stop-color="#39568c"/><stop offset="0.2812" stop-color="#375b8d"/><stop offset="0.2969" stop-color="#355f8d"/><stop offset="0.3125" stop-color="#33638d"/><stop offset="0.3281" stop-color="#31678e"/><stop offset="0.3438" stop-color="#2f6b8e"/><stop offset="0.3594" stop-color="#2e6f8e"/><stop offset="0.3750" stop-color="#2c728e"/><stop offset="0.3906" stop-color="#2a768e"/><stop offset="0.4062" stop-color="#297a8e"/><stop offset="0.4219" stop-color="#277e8e"/><stop offset="0.4375" stop-color="#26828e"/><stop offset="0.4531" stop-color="#25858e"/><stop offset="0.4688" stop-color="#23898e"/><stop offset="0.4844" stop-color="#228d8d"/><stop offset="0.5000" stop-color="#21918c"/><stop offset="0.5156" stop-color="#1f948c"/><stop offset="0.5312" stop-color="#1f988b"/><stop offset="0.5469" stop-color="#1e9c89"/><stop offset="0.5625" stop-color="#1fa088"/><stop offset="0.5781" stop-color="#20a386"/><stop offset="0.5938" stop-color="#22a785"/><stop offset="0.6094" stop-color="#25ab82"/><stop offset="0.6250" stop-color="#28ae80"/><stop offset="0.6406" stop-color="#2db27d"/><stop offset="0.6562" stop-color="#32b67a"/><stop offset="0.6719" stop-color="#38b977"/><stop offset="0.6875" stop-color="#3fbc73"/><stop offset="0.7031" stop-color="#46c06f"/><stop offset="0.7188" stop-color="#4ec36b"/><stop offset="0.7344" stop-color="#56c667"/><stop offset="0.7500" stop-color="#5ec962"/><stop offset="0.7656" stop-color="#67cc5c"/><stop offset="0.7812" stop-color="#70cf57"/><stop offset="0.7969" stop-color="#7ad151"/><stop offset="0.8125" stop-color="#84d44b"/><stop offset="0.8281" stop-color="#8ed645"/><stop offset="0.8438" stop-color="#98d83e"/><stop offset="0.8594" stop-color="#a2da37"/><stop offset="0.8750" stop-color="#addc30"/><stop offset="0.8906" stop-color="#b8de29"/><stop offset="0.9062" stop-color="#c2df23"/><stop offset="0.9219" stop-color="#cde11d"/><stop offset="0.9375" stop-color="#d8e219"/><stop offset="0.9531" stop-color="#e2e418"/><stop offset="0.9688" stop-color="#ece51b"/><stop offset="0.9844" stop-color="#f6e620"/><stop offset="1.0000" stop-color="#fde725"/></linearGradient>
</defs>
<rect width="1757" height="1827" fill="#fff"/>
<text x="842.5" y="46" font-size="33.33" text-anchor="middle" fill="#000">NGC1068_FOC_center_image</text>
<g transform="translate(93 235)">
<g clip-path="url(#cp)"><g filter="url(#vir)"><rect x="-2" y="-2" width="487" height="487" fill="#000"/><use href="#gal_a"/></g>
<path d="M243.5 0V483M0 240.5H483" stroke="#000" stroke-width="2.78" fill="none"/></g>
<text x="9.9" y="23.9" font-size="13.89" letter-spacing="-0.07" fill="#fff">FOC:X14W0101T</text>
<text x="10.2" y="473.9" font-size="27.78" letter-spacing="-0.2" fill="#fff">POL0</text>
<text x="386.4" y="473.6" font-size="13.89" fill="#fff">1795.625</text>
</g>
<g transform="translate(576 235)">
<g clip-path="url(#cp)"><g filter="url(#vir)"><rect x="-2" y="-2" width="487" height="487" fill="#000"/><use href="#gal_a"/></g>
<path d="M243.5 0V483M0 240.5H483" stroke="#000" stroke-width="2.78" fill="none"/></g>
<text x="9.9" y="23.9" font-size="13.89" letter-spacing="-0.07" fill="#fff">FOC:X14W0102T</text>
<text x="10.2" y="473.9" font-size="27.78" letter-spacing="-0.2" fill="#fff">POL0</text>
<text x="386.4" y="473.6" font-size="13.89" fill="#fff">1795.625</text>
</g>
<g transform="translate(1059 235)">
<g clip-path="url(#cp)"><g filter="url(#vir)"><rect x="-2" y="-2" width="487" height="487" fill="#000"/><use href="#gal_b"/></g>
<path d="M243.5 0V483M0 240.5H483" stroke="#000" stroke-width="2.78" fill="none"/></g>
<text x="9.9" y="23.9" font-size="13.89" letter-spacing="-0.07" fill="#fff">FOC:X14W0103T</text>
<text x="10.2" y="473.9" font-size="27.78" letter-spacing="-0.2" fill="#fff">POL60</text>
<text x="386.4" y="473.6" font-size="13.89" fill="#fff">1795.625</text>
</g>
<g transform="translate(93 748)">
<g clip-path="url(#cp)"><g filter="url(#vir)"><rect x="-2" y="-2" width="487" height="487" fill="#000"/><use href="#gal_b"/></g>
<path d="M243.5 0V483M0 240.5H483" stroke="#000" stroke-width="2.78" fill="none"/></g>
<text x="9.9" y="23.9" font-size="13.89" letter-spacing="-0.07" fill="#fff">FOC:X14W0104T</text>
<text x="10.2" y="473.9" font-size="27.78" letter-spacing="-0.2" fill="#fff">POL60</text>
<text x="386.4" y="473.6" font-size="13.89" fill="#fff">1795.625</text>
</g>
<g transform="translate(576 748)">
<g clip-path="url(#cp)"><g filter="url(#vir)"><rect x="-2" y="-2" width="487" height="487" fill="#000"/><use href="#gal_a"/></g>
<path d="M243.5 0V483M0 240.5H483" stroke="#000" stroke-width="2.78" fill="none"/></g>
<text x="9.9" y="23.9" font-size="13.89" letter-spacing="-0.07" fill="#fff">FOC:X14W0105P</text>
<text x="10.2" y="473.9" font-size="27.78" letter-spacing="-0.2" fill="#fff">POL120</text>
<text x="386.4" y="473.6" font-size="13.89" fill="#fff">1795.625</text>
</g>
<g transform="translate(1059 748)">
<g clip-path="url(#cp)"><g filter="url(#vir)"><rect x="-2" y="-2" width="487" height="487" fill="#000"/><use href="#gal_a"/></g>
<path d="M243.5 0V483M0 240.5H483" stroke="#000" stroke-width="2.78" fill="none"/></g>
<text x="9.9" y="23.9" font-size="13.89" letter-spacing="-0.07" fill="#fff">FOC:X14W0106T</text>
<text x="10.2" y="473.9" font-size="27.78" letter-spacing="-0.2" fill="#fff">POL120</text>
<text x="386.4" y="473.6" font-size="13.89" fill="#fff">1795.625</text>
</g>
<rect x="93" y="235" width="483" height="483" fill="none" stroke="#000" stroke-width="2.20"/>
<text x="73.1" y="728.00" font-size="27.78" text-anchor="end" fill="#000">0</text>
<text x="73.1" y="664.00" font-size="27.78" text-anchor="end" fill="#000">25</text>
<text x="73.1" y="600.00" font-size="27.78" text-anchor="end" fill="#000">50</text>
<text x="73.1" y="537.00" font-size="27.78" text-anchor="end" fill="#000">75</text>
<text x="73.1" y="473.00" font-size="27.78" text-anchor="end" fill="#000">100</text>
<text x="73.1" y="410.00" font-size="27.78" text-anchor="end" fill="#000">125</text>
<text x="73.1" y="346.00" font-size="27.78" text-anchor="end" fill="#000">150</text>
<text x="73.1" y="282.00" font-size="27.78" text-anchor="end" fill="#000">175</text>
<path d="M94.00 718.00v9.72M221.00 718.00v9.72M348.00 718.00v9.72M475.00 718.00v9.72M93.00 717.00h-9.72M93.00 653.00h-9.72M93.00 589.00h-9.72M93.00 526.00h-9.72M93.00 462.00h-9.72M93.00 399.00h-9.72M93.00 335.00h-9.72M93.00 271.00h-9.72" stroke="#000" stroke-width="2.20" fill="none"/>
<rect x="576" y="235" width="483" height="483" fill="none" stroke="#000" stroke-width="2.20"/>
<path d="M577.00 718.00v9.72M704.00 718.00v9.72M831.00 718.00v9.72M958.00 718.00v9.72M576.00 717.00h-9.72M576.00 653.00h-9.72M576.00 589.00h-9.72M576.00 526.00h-9.72M576.00 462.00h-9.72M576.00 399.00h-9.72M576.00 335.00h-9.72M576.00 271.00h-9.72" stroke="#000" stroke-width="2.20" fill="none"/>
<rect x="1059" y="235" width="484" height="483" fill="none" stroke="#000" stroke-width="2.20"/>
<path d="M1061.00 718.00v9.72M1188.00 718.00v9.72M1315.00 718.00v9.72M1442.00 718.00v9.72M1059.00 717.00h-9.72M1059.00 653.00h-9.72M1059.00 589.00h-9.72M1059.00 526.00h-9.72M1059.00 462.00h-9.72M1059.00 399.00h-9.72M1059.00 335.00h-9.72M1059.00 271.00h-9.72" stroke="#000" stroke-width="2.20" fill="none"/>
<rect x="93" y="748" width="483" height="483" fill="none" stroke="#000" stroke-width="2.20"/>
<text x="73.1" y="1241.00" font-size="27.78" text-anchor="end" fill="#000">0</text>
<text x="73.1" y="1177.00" font-size="27.78" text-anchor="end" fill="#000">25</text>
<text x="73.1" y="1113.00" font-size="27.78" text-anchor="end" fill="#000">50</text>
<text x="73.1" y="1050.00" font-size="27.78" text-anchor="end" fill="#000">75</text>
<text x="73.1" y="986.00" font-size="27.78" text-anchor="end" fill="#000">100</text>
<text x="73.1" y="923.00" font-size="27.78" text-anchor="end" fill="#000">125</text>
<text x="73.1" y="859.00" font-size="27.78" text-anchor="end" fill="#000">150</text>
<text x="73.1" y="795.00" font-size="27.78" text-anchor="end" fill="#000">175</text>
<path d="M94.00 1231.00v9.72M221.00 1231.00v9.72M348.00 1231.00v9.72M475.00 1231.00v9.72M93.00 1230.00h-9.72M93.00 1166.00h-9.72M93.00 1102.00h-9.72M93.00 1039.00h-9.72M93.00 975.00h-9.72M93.00 912.00h-9.72M93.00 848.00h-9.72M93.00 784.00h-9.72" stroke="#000" stroke-width="2.20" fill="none"/>
<rect x="576" y="748" width="483" height="483" fill="none" stroke="#000" stroke-width="2.20"/>
<path d="M577.00 1231.00v9.72M704.00 1231.00v9.72M831.00 1231.00v9.72M958.00 1231.00v9.72M576.00 1230.00h-9.72M576.00 1166.00h-9.72M576.00 1102.00h-9.72M576.00 1039.00h-9.72M576.00 975.00h-9.72M576.00 912.00h-9.72M576.00 848.00h-9.72M576.00 784.00h-9.72" stroke="#000" stroke-width="2.20" fill="none"/>
<rect x="1059" y="748" width="484" height="483" fill="none" stroke="#000" stroke-width="2.20"/>
<path d="M1061.00 1231.00v9.72M1188.00 1231.00v9.72M1315.00 1231.00v9.72M1442.00 1231.00v9.72M1059.00 1230.00h-9.72M1059.00 1166.00h-9.72M1059.00 1102.00h-9.72M1059.00 1039.00h-9.72M1059.00 975.00h-9.72M1059.00 912.00h-9.72M1059.00 848.00h-9.72M1059.00 784.00h-9.72" stroke="#000" stroke-width="2.20" fill="none"/>
<rect x="93" y="1246" width="483" height="514" fill="none" stroke="#000" stroke-width="2.20"/>
<text x="94.90" y="1800.6" font-size="27.78" text-anchor="middle" fill="#000">0</text>
<text x="220.60" y="1800.6" font-size="27.78" text-anchor="middle" fill="#000">50</text>
<text x="348.80" y="1800.6" font-size="27.78" text-anchor="middle" fill="#000">100</text>
<text x="475.30" y="1800.6" font-size="27.78" text-anchor="middle" fill="#000">150</text>
<text x="73.1" y="1770.70" font-size="27.78" text-anchor="end" fill="#000">0</text>
<text x="73.1" y="1702.70" font-size="27.78" text-anchor="end" fill="#000">25</text>
<text x="73.1" y="1634.70" font-size="27.78" text-anchor="end" fill="#000">50</text>
<text x="73.1" y="1567.70" font-size="27.78" text-anchor="end" fill="#000">75</text>
<text x="73.1" y="1499.70" font-size="27.78" text-anchor="end" fill="#000">100</text>
<text x="73.1" y="1431.70" font-size="27.78" text-anchor="end" fill="#000">125</text>
<text x="73.1" y="1363.70" font-size="27.78" text-anchor="end" fill="#000">150</text>
<text x="73.1" y="1296.70" font-size="27.78" text-anchor="end" fill="#000">175</text>
<path d="M94.00 1760.00v9.72M221.00 1760.00v9.72M348.00 1760.00v9.72M475.00 1760.00v9.72M93.00 1759.00h-9.72M93.00 1691.00h-9.72M93.00 1623.00h-9.72M93.00 1556.00h-9.72M93.00 1488.00h-9.72M93.00 1420.00h-9.72M93.00 1352.00h-9.72M93.00 1285.00h-9.72" stroke="#000" stroke-width="2.20" fill="none"/>
<rect x="576" y="1246" width="483" height="514" fill="none" stroke="#000" stroke-width="2.20"/>
<text x="577.90" y="1800.6" font-size="27.78" text-anchor="middle" fill="#000">0</text>
<text x="703.60" y="1800.6" font-size="27.78" text-anchor="middle" fill="#000">50</text>
<text x="831.80" y="1800.6" font-size="27.78" text-anchor="middle" fill="#000">100</text>
<text x="958.30" y="1800.6" font-size="27.78" text-anchor="middle" fill="#000">150</text>
<path d="M577.00 1760.00v9.72M704.00 1760.00v9.72M831.00 1760.00v9.72M958.00 1760.00v9.72M576.00 1759.00h-9.72M576.00 1691.00h-9.72M576.00 1623.00h-9.72M576.00 1556.00h-9.72M576.00 1488.00h-9.72M576.00 1420.00h-9.72M576.00 1352.00h-9.72M576.00 1285.00h-9.72" stroke="#000" stroke-width="2.20" fill="none"/>
<rect x="1059" y="1246" width="484" height="514" fill="none" stroke="#000" stroke-width="2.20"/>
<text x="1061.90" y="1800.6" font-size="27.78" text-anchor="middle" fill="#000">0</text>
<text x="1187.60" y="1800.6" font-size="27.78" text-anchor="middle" fill="#000">50</text>
<text x="1315.80" y="1800.6" font-size="27.78" text-anchor="middle" fill="#000">100</text>
<text x="1442.30" y="1800.6" font-size="27.78" text-anchor="middle" fill="#000">150</text>
<path d="M1061.00 1760.00v9.72M1188.00 1760.00v9.72M1315.00 1760.00v9.72M1442.00 1760.00v9.72M1059.00 1759.00h-9.72M1059.00 1691.00h-9.72M1059.00 1623.00h-9.72M1059.00 1556.00h-9.72M1059.00 1488.00h-9.72M1059.00 1420.00h-9.72M1059.00 1352.00h-9.72M1059.00 1285.00h-9.72" stroke="#000" stroke-width="2.20" fill="none"/>
<rect x="1643" y="240" width="40" height="1500" fill="url(#cbar)" stroke="#000" stroke-width="2.20"/>
<text x="1703.0" y="1751.40" font-size="27.78" fill="#000">0</text>
<text x="1703.0" y="1505.40" font-size="27.78" fill="#000">2</text>
<text x="1703.0" y="1259.40" font-size="27.78" fill="#000">4</text>
<text x="1703.0" y="1013.40" font-size="27.78" fill="#000">6</text>
<text x="1703.0" y="767.40" font-size="27.78" fill="#000">8</text>
<text x="1701.9" y="522.50" font-size="27.78" fill="#000">10</text>
<text x="1701.9" y="276.50" font-size="27.78" fill="#000">12</text>
<path d="M1683 1740.00h9.72M1683 1494.00h9.72M1683 1248.00h9.72M1683 1002.00h9.72M1683 756.00h9.72M1683 510.00h9.72M1683 264.00h9.72" stroke="#000" stroke-width="2.20" fill="none"/>
</svg></body></html>
